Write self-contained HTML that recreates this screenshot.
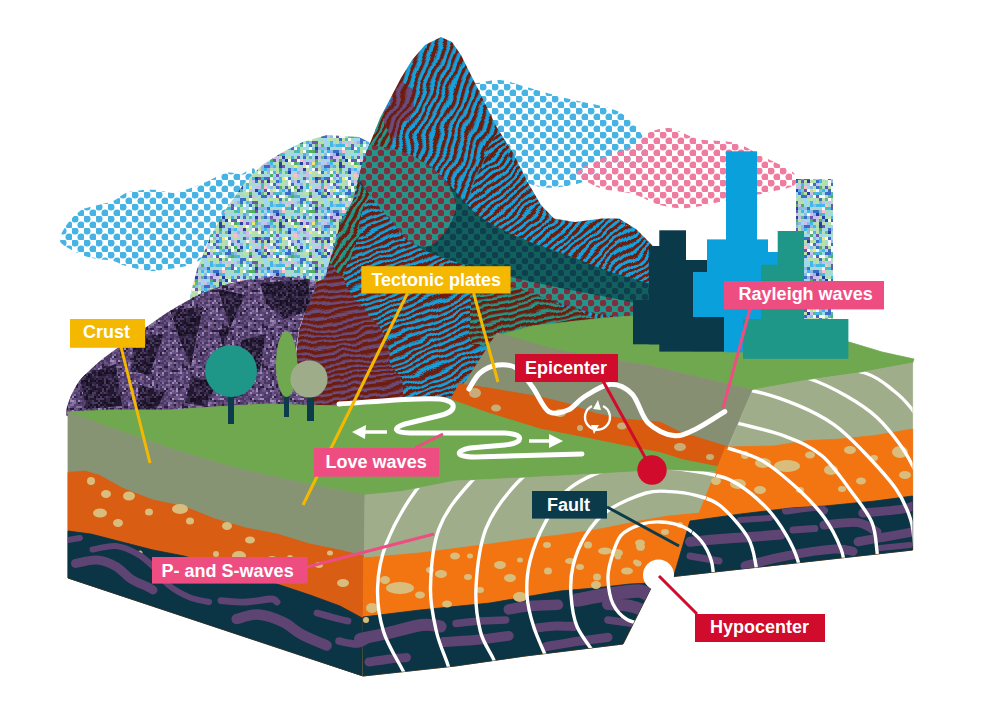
<!DOCTYPE html><html><head><meta charset="utf-8"><style>
html,body{margin:0;padding:0;background:#fff;}
body{width:1000px;height:715px;overflow:hidden;}
svg{display:block;}
.lb{font-family:"Liberation Sans",sans-serif;font-weight:bold;fill:#fff;font-size:17px;}
</style></head><body>
<svg width="1000" height="715" viewBox="0 0 1000 715">
<defs>
<pattern id="pBlue" width="12" height="12" patternUnits="userSpaceOnUse"><circle cx="3" cy="3" r="3.55" fill="#45b3e4"/><circle cx="9" cy="9" r="3.55" fill="#45b3e4"/></pattern>
<pattern id="pPink" width="12" height="12" patternUnits="userSpaceOnUse"><circle cx="3" cy="3" r="3.55" fill="#f07ba0"/><circle cx="9" cy="9" r="3.55" fill="#f07ba0"/></pattern>
<pattern id="pTealDots" width="12" height="12" patternUnits="userSpaceOnUse"><rect width="12" height="12" fill="#23968a"/><circle cx="3" cy="3" r="3.3" fill="#7e2f3e"/><circle cx="9" cy="9" r="3.3" fill="#7e2f3e"/></pattern>
<pattern id="pDarkTealDots" width="12" height="12" patternUnits="userSpaceOnUse"><rect width="12" height="12" fill="#11605e"/><circle cx="3" cy="3" r="3.3" fill="#0f3f4d"/><circle cx="9" cy="9" r="3.3" fill="#0f3f4d"/></pattern>
<pattern id="pStripeTop" width="7" height="7" patternUnits="userSpaceOnUse" patternTransform="rotate(-68)"><rect width="7" height="7" fill="#12a0dc"/><rect y="0" width="7" height="3.3" fill="#6e1d0c"/></pattern>
<pattern id="pStripeMid" width="6" height="6" patternUnits="userSpaceOnUse" patternTransform="rotate(-22)"><rect width="6" height="6" fill="#12a0dc"/><rect y="0" width="6" height="3.2" fill="#6e1d0c"/></pattern>
<pattern id="pStripeSh" width="6" height="6" patternUnits="userSpaceOnUse" patternTransform="rotate(-40)"><rect width="6" height="6" fill="#12a0dc"/><rect y="0" width="6" height="3.0" fill="#6e1d0c"/></pattern>
<pattern id="pStripeLL" width="6" height="6" patternUnits="userSpaceOnUse" patternTransform="rotate(-8)"><rect width="6" height="6" fill="#6b4d7e"/><rect y="0" width="6" height="3.4" fill="#6e1d0c"/></pattern>
<pattern id="pStripeTeal2" width="6" height="6" patternUnits="userSpaceOnUse" patternTransform="rotate(-60)"><rect width="6" height="6" fill="#25968a"/><rect y="0" width="6" height="3.0" fill="#6e1d0c"/></pattern>
<pattern id="pStripePS" width="7" height="7" patternUnits="userSpaceOnUse" patternTransform="rotate(-68)"><rect width="7" height="7" fill="#6b4d7e"/><rect y="0" width="7" height="3.3" fill="#6e1d0c"/></pattern>
<pattern id="pStripeTeal" width="6" height="6" patternUnits="userSpaceOnUse" patternTransform="rotate(-12)"><rect width="6" height="6" fill="#25968a"/><rect y="0" width="6" height="3.4" fill="#6e1d0c"/></pattern>
<filter id="warp" x="-10%" y="-10%" width="120%" height="120%"><feTurbulence type="fractalNoise" baseFrequency="0.035" numOctaves="2" seed="4"/><feDisplacementMap in="SourceGraphic" scale="14" xChannelSelector="R" yChannelSelector="G"/></filter>
<pattern id="pPurpleDark" width="40" height="40" patternUnits="userSpaceOnUse"><rect x="0" y="0" width="2" height="2" fill="#181020"/><rect x="2" y="0" width="2" height="2" fill="#4a3a62"/><rect x="4" y="0" width="2" height="2" fill="#4a3a62"/><rect x="6" y="0" width="2" height="2" fill="#342848"/><rect x="8" y="0" width="2" height="2" fill="#342848"/><rect x="10" y="0" width="2" height="2" fill="#342848"/><rect x="12" y="0" width="2" height="2" fill="#4a3a62"/><rect x="14" y="0" width="2" height="2" fill="#221830"/><rect x="16" y="0" width="2" height="2" fill="#221830"/><rect x="18" y="0" width="2" height="2" fill="#4a3a62"/><rect x="20" y="0" width="2" height="2" fill="#221830"/><rect x="22" y="0" width="2" height="2" fill="#221830"/><rect x="24" y="0" width="2" height="2" fill="#221830"/><rect x="26" y="0" width="2" height="2" fill="#342848"/><rect x="28" y="0" width="2" height="2" fill="#342848"/><rect x="30" y="0" width="2" height="2" fill="#181020"/><rect x="32" y="0" width="2" height="2" fill="#181020"/><rect x="34" y="0" width="2" height="2" fill="#181020"/><rect x="36" y="0" width="2" height="2" fill="#221830"/><rect x="38" y="0" width="2" height="2" fill="#221830"/><rect x="0" y="2" width="2" height="2" fill="#221830"/><rect x="2" y="2" width="2" height="2" fill="#342848"/><rect x="4" y="2" width="2" height="2" fill="#4a3a62"/><rect x="6" y="2" width="2" height="2" fill="#342848"/><rect x="8" y="2" width="2" height="2" fill="#221830"/><rect x="10" y="2" width="2" height="2" fill="#342848"/><rect x="12" y="2" width="2" height="2" fill="#4a3a62"/><rect x="14" y="2" width="2" height="2" fill="#4a3a62"/><rect x="16" y="2" width="2" height="2" fill="#4a3a62"/><rect x="18" y="2" width="2" height="2" fill="#181020"/><rect x="20" y="2" width="2" height="2" fill="#4a3a62"/><rect x="22" y="2" width="2" height="2" fill="#221830"/><rect x="24" y="2" width="2" height="2" fill="#181020"/><rect x="26" y="2" width="2" height="2" fill="#221830"/><rect x="28" y="2" width="2" height="2" fill="#342848"/><rect x="30" y="2" width="2" height="2" fill="#342848"/><rect x="32" y="2" width="2" height="2" fill="#4a3a62"/><rect x="34" y="2" width="2" height="2" fill="#221830"/><rect x="36" y="2" width="2" height="2" fill="#221830"/><rect x="38" y="2" width="2" height="2" fill="#221830"/><rect x="0" y="4" width="2" height="2" fill="#221830"/><rect x="2" y="4" width="2" height="2" fill="#181020"/><rect x="4" y="4" width="2" height="2" fill="#342848"/><rect x="6" y="4" width="2" height="2" fill="#342848"/><rect x="8" y="4" width="2" height="2" fill="#342848"/><rect x="10" y="4" width="2" height="2" fill="#181020"/><rect x="12" y="4" width="2" height="2" fill="#342848"/><rect x="14" y="4" width="2" height="2" fill="#221830"/><rect x="16" y="4" width="2" height="2" fill="#181020"/><rect x="18" y="4" width="2" height="2" fill="#4a3a62"/><rect x="20" y="4" width="2" height="2" fill="#181020"/><rect x="22" y="4" width="2" height="2" fill="#221830"/><rect x="24" y="4" width="2" height="2" fill="#342848"/><rect x="26" y="4" width="2" height="2" fill="#181020"/><rect x="28" y="4" width="2" height="2" fill="#181020"/><rect x="30" y="4" width="2" height="2" fill="#181020"/><rect x="32" y="4" width="2" height="2" fill="#221830"/><rect x="34" y="4" width="2" height="2" fill="#221830"/><rect x="36" y="4" width="2" height="2" fill="#221830"/><rect x="38" y="4" width="2" height="2" fill="#221830"/><rect x="0" y="6" width="2" height="2" fill="#181020"/><rect x="2" y="6" width="2" height="2" fill="#342848"/><rect x="4" y="6" width="2" height="2" fill="#181020"/><rect x="6" y="6" width="2" height="2" fill="#342848"/><rect x="8" y="6" width="2" height="2" fill="#181020"/><rect x="10" y="6" width="2" height="2" fill="#342848"/><rect x="12" y="6" width="2" height="2" fill="#221830"/><rect x="14" y="6" width="2" height="2" fill="#4a3a62"/><rect x="16" y="6" width="2" height="2" fill="#181020"/><rect x="18" y="6" width="2" height="2" fill="#221830"/><rect x="20" y="6" width="2" height="2" fill="#342848"/><rect x="22" y="6" width="2" height="2" fill="#4a3a62"/><rect x="24" y="6" width="2" height="2" fill="#221830"/><rect x="26" y="6" width="2" height="2" fill="#342848"/><rect x="28" y="6" width="2" height="2" fill="#221830"/><rect x="30" y="6" width="2" height="2" fill="#221830"/><rect x="32" y="6" width="2" height="2" fill="#221830"/><rect x="34" y="6" width="2" height="2" fill="#342848"/><rect x="36" y="6" width="2" height="2" fill="#4a3a62"/><rect x="38" y="6" width="2" height="2" fill="#221830"/><rect x="0" y="8" width="2" height="2" fill="#221830"/><rect x="2" y="8" width="2" height="2" fill="#342848"/><rect x="4" y="8" width="2" height="2" fill="#4a3a62"/><rect x="6" y="8" width="2" height="2" fill="#221830"/><rect x="8" y="8" width="2" height="2" fill="#342848"/><rect x="10" y="8" width="2" height="2" fill="#221830"/><rect x="12" y="8" width="2" height="2" fill="#4a3a62"/><rect x="14" y="8" width="2" height="2" fill="#342848"/><rect x="16" y="8" width="2" height="2" fill="#221830"/><rect x="18" y="8" width="2" height="2" fill="#221830"/><rect x="20" y="8" width="2" height="2" fill="#342848"/><rect x="22" y="8" width="2" height="2" fill="#342848"/><rect x="24" y="8" width="2" height="2" fill="#4a3a62"/><rect x="26" y="8" width="2" height="2" fill="#221830"/><rect x="28" y="8" width="2" height="2" fill="#221830"/><rect x="30" y="8" width="2" height="2" fill="#4a3a62"/><rect x="32" y="8" width="2" height="2" fill="#342848"/><rect x="34" y="8" width="2" height="2" fill="#221830"/><rect x="36" y="8" width="2" height="2" fill="#342848"/><rect x="38" y="8" width="2" height="2" fill="#181020"/><rect x="0" y="10" width="2" height="2" fill="#342848"/><rect x="2" y="10" width="2" height="2" fill="#342848"/><rect x="4" y="10" width="2" height="2" fill="#342848"/><rect x="6" y="10" width="2" height="2" fill="#342848"/><rect x="8" y="10" width="2" height="2" fill="#181020"/><rect x="10" y="10" width="2" height="2" fill="#181020"/><rect x="12" y="10" width="2" height="2" fill="#342848"/><rect x="14" y="10" width="2" height="2" fill="#221830"/><rect x="16" y="10" width="2" height="2" fill="#4a3a62"/><rect x="18" y="10" width="2" height="2" fill="#221830"/><rect x="20" y="10" width="2" height="2" fill="#221830"/><rect x="22" y="10" width="2" height="2" fill="#181020"/><rect x="24" y="10" width="2" height="2" fill="#342848"/><rect x="26" y="10" width="2" height="2" fill="#181020"/><rect x="28" y="10" width="2" height="2" fill="#342848"/><rect x="30" y="10" width="2" height="2" fill="#181020"/><rect x="32" y="10" width="2" height="2" fill="#342848"/><rect x="34" y="10" width="2" height="2" fill="#221830"/><rect x="36" y="10" width="2" height="2" fill="#221830"/><rect x="38" y="10" width="2" height="2" fill="#342848"/><rect x="0" y="12" width="2" height="2" fill="#4a3a62"/><rect x="2" y="12" width="2" height="2" fill="#181020"/><rect x="4" y="12" width="2" height="2" fill="#221830"/><rect x="6" y="12" width="2" height="2" fill="#4a3a62"/><rect x="8" y="12" width="2" height="2" fill="#342848"/><rect x="10" y="12" width="2" height="2" fill="#342848"/><rect x="12" y="12" width="2" height="2" fill="#221830"/><rect x="14" y="12" width="2" height="2" fill="#221830"/><rect x="16" y="12" width="2" height="2" fill="#342848"/><rect x="18" y="12" width="2" height="2" fill="#181020"/><rect x="20" y="12" width="2" height="2" fill="#221830"/><rect x="22" y="12" width="2" height="2" fill="#342848"/><rect x="24" y="12" width="2" height="2" fill="#181020"/><rect x="26" y="12" width="2" height="2" fill="#181020"/><rect x="28" y="12" width="2" height="2" fill="#221830"/><rect x="30" y="12" width="2" height="2" fill="#221830"/><rect x="32" y="12" width="2" height="2" fill="#181020"/><rect x="34" y="12" width="2" height="2" fill="#181020"/><rect x="36" y="12" width="2" height="2" fill="#342848"/><rect x="38" y="12" width="2" height="2" fill="#221830"/><rect x="0" y="14" width="2" height="2" fill="#181020"/><rect x="2" y="14" width="2" height="2" fill="#342848"/><rect x="4" y="14" width="2" height="2" fill="#181020"/><rect x="6" y="14" width="2" height="2" fill="#4a3a62"/><rect x="8" y="14" width="2" height="2" fill="#181020"/><rect x="10" y="14" width="2" height="2" fill="#221830"/><rect x="12" y="14" width="2" height="2" fill="#4a3a62"/><rect x="14" y="14" width="2" height="2" fill="#221830"/><rect x="16" y="14" width="2" height="2" fill="#342848"/><rect x="18" y="14" width="2" height="2" fill="#181020"/><rect x="20" y="14" width="2" height="2" fill="#181020"/><rect x="22" y="14" width="2" height="2" fill="#221830"/><rect x="24" y="14" width="2" height="2" fill="#221830"/><rect x="26" y="14" width="2" height="2" fill="#342848"/><rect x="28" y="14" width="2" height="2" fill="#342848"/><rect x="30" y="14" width="2" height="2" fill="#342848"/><rect x="32" y="14" width="2" height="2" fill="#221830"/><rect x="34" y="14" width="2" height="2" fill="#221830"/><rect x="36" y="14" width="2" height="2" fill="#4a3a62"/><rect x="38" y="14" width="2" height="2" fill="#181020"/><rect x="0" y="16" width="2" height="2" fill="#221830"/><rect x="2" y="16" width="2" height="2" fill="#342848"/><rect x="4" y="16" width="2" height="2" fill="#4a3a62"/><rect x="6" y="16" width="2" height="2" fill="#221830"/><rect x="8" y="16" width="2" height="2" fill="#181020"/><rect x="10" y="16" width="2" height="2" fill="#221830"/><rect x="12" y="16" width="2" height="2" fill="#342848"/><rect x="14" y="16" width="2" height="2" fill="#342848"/><rect x="16" y="16" width="2" height="2" fill="#4a3a62"/><rect x="18" y="16" width="2" height="2" fill="#342848"/><rect x="20" y="16" width="2" height="2" fill="#342848"/><rect x="22" y="16" width="2" height="2" fill="#342848"/><rect x="24" y="16" width="2" height="2" fill="#342848"/><rect x="26" y="16" width="2" height="2" fill="#4a3a62"/><rect x="28" y="16" width="2" height="2" fill="#342848"/><rect x="30" y="16" width="2" height="2" fill="#342848"/><rect x="32" y="16" width="2" height="2" fill="#221830"/><rect x="34" y="16" width="2" height="2" fill="#4a3a62"/><rect x="36" y="16" width="2" height="2" fill="#342848"/><rect x="38" y="16" width="2" height="2" fill="#221830"/><rect x="0" y="18" width="2" height="2" fill="#4a3a62"/><rect x="2" y="18" width="2" height="2" fill="#4a3a62"/><rect x="4" y="18" width="2" height="2" fill="#342848"/><rect x="6" y="18" width="2" height="2" fill="#221830"/><rect x="8" y="18" width="2" height="2" fill="#342848"/><rect x="10" y="18" width="2" height="2" fill="#221830"/><rect x="12" y="18" width="2" height="2" fill="#221830"/><rect x="14" y="18" width="2" height="2" fill="#342848"/><rect x="16" y="18" width="2" height="2" fill="#221830"/><rect x="18" y="18" width="2" height="2" fill="#342848"/><rect x="20" y="18" width="2" height="2" fill="#342848"/><rect x="22" y="18" width="2" height="2" fill="#221830"/><rect x="24" y="18" width="2" height="2" fill="#4a3a62"/><rect x="26" y="18" width="2" height="2" fill="#221830"/><rect x="28" y="18" width="2" height="2" fill="#4a3a62"/><rect x="30" y="18" width="2" height="2" fill="#4a3a62"/><rect x="32" y="18" width="2" height="2" fill="#342848"/><rect x="34" y="18" width="2" height="2" fill="#221830"/><rect x="36" y="18" width="2" height="2" fill="#342848"/><rect x="38" y="18" width="2" height="2" fill="#342848"/><rect x="0" y="20" width="2" height="2" fill="#181020"/><rect x="2" y="20" width="2" height="2" fill="#221830"/><rect x="4" y="20" width="2" height="2" fill="#181020"/><rect x="6" y="20" width="2" height="2" fill="#181020"/><rect x="8" y="20" width="2" height="2" fill="#4a3a62"/><rect x="10" y="20" width="2" height="2" fill="#181020"/><rect x="12" y="20" width="2" height="2" fill="#221830"/><rect x="14" y="20" width="2" height="2" fill="#181020"/><rect x="16" y="20" width="2" height="2" fill="#342848"/><rect x="18" y="20" width="2" height="2" fill="#181020"/><rect x="20" y="20" width="2" height="2" fill="#181020"/><rect x="22" y="20" width="2" height="2" fill="#221830"/><rect x="24" y="20" width="2" height="2" fill="#4a3a62"/><rect x="26" y="20" width="2" height="2" fill="#181020"/><rect x="28" y="20" width="2" height="2" fill="#221830"/><rect x="30" y="20" width="2" height="2" fill="#342848"/><rect x="32" y="20" width="2" height="2" fill="#4a3a62"/><rect x="34" y="20" width="2" height="2" fill="#221830"/><rect x="36" y="20" width="2" height="2" fill="#181020"/><rect x="38" y="20" width="2" height="2" fill="#221830"/><rect x="0" y="22" width="2" height="2" fill="#181020"/><rect x="2" y="22" width="2" height="2" fill="#221830"/><rect x="4" y="22" width="2" height="2" fill="#342848"/><rect x="6" y="22" width="2" height="2" fill="#181020"/><rect x="8" y="22" width="2" height="2" fill="#221830"/><rect x="10" y="22" width="2" height="2" fill="#221830"/><rect x="12" y="22" width="2" height="2" fill="#342848"/><rect x="14" y="22" width="2" height="2" fill="#342848"/><rect x="16" y="22" width="2" height="2" fill="#221830"/><rect x="18" y="22" width="2" height="2" fill="#221830"/><rect x="20" y="22" width="2" height="2" fill="#221830"/><rect x="22" y="22" width="2" height="2" fill="#181020"/><rect x="24" y="22" width="2" height="2" fill="#4a3a62"/><rect x="26" y="22" width="2" height="2" fill="#181020"/><rect x="28" y="22" width="2" height="2" fill="#221830"/><rect x="30" y="22" width="2" height="2" fill="#4a3a62"/><rect x="32" y="22" width="2" height="2" fill="#221830"/><rect x="34" y="22" width="2" height="2" fill="#342848"/><rect x="36" y="22" width="2" height="2" fill="#4a3a62"/><rect x="38" y="22" width="2" height="2" fill="#342848"/><rect x="0" y="24" width="2" height="2" fill="#181020"/><rect x="2" y="24" width="2" height="2" fill="#342848"/><rect x="4" y="24" width="2" height="2" fill="#342848"/><rect x="6" y="24" width="2" height="2" fill="#181020"/><rect x="8" y="24" width="2" height="2" fill="#221830"/><rect x="10" y="24" width="2" height="2" fill="#181020"/><rect x="12" y="24" width="2" height="2" fill="#4a3a62"/><rect x="14" y="24" width="2" height="2" fill="#342848"/><rect x="16" y="24" width="2" height="2" fill="#4a3a62"/><rect x="18" y="24" width="2" height="2" fill="#221830"/><rect x="20" y="24" width="2" height="2" fill="#181020"/><rect x="22" y="24" width="2" height="2" fill="#342848"/><rect x="24" y="24" width="2" height="2" fill="#342848"/><rect x="26" y="24" width="2" height="2" fill="#4a3a62"/><rect x="28" y="24" width="2" height="2" fill="#342848"/><rect x="30" y="24" width="2" height="2" fill="#221830"/><rect x="32" y="24" width="2" height="2" fill="#4a3a62"/><rect x="34" y="24" width="2" height="2" fill="#221830"/><rect x="36" y="24" width="2" height="2" fill="#181020"/><rect x="38" y="24" width="2" height="2" fill="#221830"/><rect x="0" y="26" width="2" height="2" fill="#4a3a62"/><rect x="2" y="26" width="2" height="2" fill="#181020"/><rect x="4" y="26" width="2" height="2" fill="#342848"/><rect x="6" y="26" width="2" height="2" fill="#4a3a62"/><rect x="8" y="26" width="2" height="2" fill="#342848"/><rect x="10" y="26" width="2" height="2" fill="#221830"/><rect x="12" y="26" width="2" height="2" fill="#221830"/><rect x="14" y="26" width="2" height="2" fill="#221830"/><rect x="16" y="26" width="2" height="2" fill="#4a3a62"/><rect x="18" y="26" width="2" height="2" fill="#342848"/><rect x="20" y="26" width="2" height="2" fill="#342848"/><rect x="22" y="26" width="2" height="2" fill="#181020"/><rect x="24" y="26" width="2" height="2" fill="#221830"/><rect x="26" y="26" width="2" height="2" fill="#221830"/><rect x="28" y="26" width="2" height="2" fill="#4a3a62"/><rect x="30" y="26" width="2" height="2" fill="#221830"/><rect x="32" y="26" width="2" height="2" fill="#221830"/><rect x="34" y="26" width="2" height="2" fill="#342848"/><rect x="36" y="26" width="2" height="2" fill="#221830"/><rect x="38" y="26" width="2" height="2" fill="#342848"/><rect x="0" y="28" width="2" height="2" fill="#221830"/><rect x="2" y="28" width="2" height="2" fill="#342848"/><rect x="4" y="28" width="2" height="2" fill="#342848"/><rect x="6" y="28" width="2" height="2" fill="#221830"/><rect x="8" y="28" width="2" height="2" fill="#4a3a62"/><rect x="10" y="28" width="2" height="2" fill="#342848"/><rect x="12" y="28" width="2" height="2" fill="#221830"/><rect x="14" y="28" width="2" height="2" fill="#181020"/><rect x="16" y="28" width="2" height="2" fill="#221830"/><rect x="18" y="28" width="2" height="2" fill="#221830"/><rect x="20" y="28" width="2" height="2" fill="#221830"/><rect x="22" y="28" width="2" height="2" fill="#4a3a62"/><rect x="24" y="28" width="2" height="2" fill="#181020"/><rect x="26" y="28" width="2" height="2" fill="#4a3a62"/><rect x="28" y="28" width="2" height="2" fill="#342848"/><rect x="30" y="28" width="2" height="2" fill="#221830"/><rect x="32" y="28" width="2" height="2" fill="#221830"/><rect x="34" y="28" width="2" height="2" fill="#4a3a62"/><rect x="36" y="28" width="2" height="2" fill="#342848"/><rect x="38" y="28" width="2" height="2" fill="#342848"/><rect x="0" y="30" width="2" height="2" fill="#4a3a62"/><rect x="2" y="30" width="2" height="2" fill="#342848"/><rect x="4" y="30" width="2" height="2" fill="#181020"/><rect x="6" y="30" width="2" height="2" fill="#4a3a62"/><rect x="8" y="30" width="2" height="2" fill="#221830"/><rect x="10" y="30" width="2" height="2" fill="#181020"/><rect x="12" y="30" width="2" height="2" fill="#221830"/><rect x="14" y="30" width="2" height="2" fill="#342848"/><rect x="16" y="30" width="2" height="2" fill="#342848"/><rect x="18" y="30" width="2" height="2" fill="#221830"/><rect x="20" y="30" width="2" height="2" fill="#221830"/><rect x="22" y="30" width="2" height="2" fill="#4a3a62"/><rect x="24" y="30" width="2" height="2" fill="#221830"/><rect x="26" y="30" width="2" height="2" fill="#342848"/><rect x="28" y="30" width="2" height="2" fill="#181020"/><rect x="30" y="30" width="2" height="2" fill="#221830"/><rect x="32" y="30" width="2" height="2" fill="#221830"/><rect x="34" y="30" width="2" height="2" fill="#4a3a62"/><rect x="36" y="30" width="2" height="2" fill="#342848"/><rect x="38" y="30" width="2" height="2" fill="#4a3a62"/><rect x="0" y="32" width="2" height="2" fill="#181020"/><rect x="2" y="32" width="2" height="2" fill="#221830"/><rect x="4" y="32" width="2" height="2" fill="#342848"/><rect x="6" y="32" width="2" height="2" fill="#342848"/><rect x="8" y="32" width="2" height="2" fill="#221830"/><rect x="10" y="32" width="2" height="2" fill="#181020"/><rect x="12" y="32" width="2" height="2" fill="#4a3a62"/><rect x="14" y="32" width="2" height="2" fill="#4a3a62"/><rect x="16" y="32" width="2" height="2" fill="#221830"/><rect x="18" y="32" width="2" height="2" fill="#181020"/><rect x="20" y="32" width="2" height="2" fill="#4a3a62"/><rect x="22" y="32" width="2" height="2" fill="#342848"/><rect x="24" y="32" width="2" height="2" fill="#4a3a62"/><rect x="26" y="32" width="2" height="2" fill="#342848"/><rect x="28" y="32" width="2" height="2" fill="#221830"/><rect x="30" y="32" width="2" height="2" fill="#221830"/><rect x="32" y="32" width="2" height="2" fill="#221830"/><rect x="34" y="32" width="2" height="2" fill="#221830"/><rect x="36" y="32" width="2" height="2" fill="#342848"/><rect x="38" y="32" width="2" height="2" fill="#4a3a62"/><rect x="0" y="34" width="2" height="2" fill="#4a3a62"/><rect x="2" y="34" width="2" height="2" fill="#181020"/><rect x="4" y="34" width="2" height="2" fill="#4a3a62"/><rect x="6" y="34" width="2" height="2" fill="#221830"/><rect x="8" y="34" width="2" height="2" fill="#342848"/><rect x="10" y="34" width="2" height="2" fill="#342848"/><rect x="12" y="34" width="2" height="2" fill="#4a3a62"/><rect x="14" y="34" width="2" height="2" fill="#342848"/><rect x="16" y="34" width="2" height="2" fill="#221830"/><rect x="18" y="34" width="2" height="2" fill="#4a3a62"/><rect x="20" y="34" width="2" height="2" fill="#181020"/><rect x="22" y="34" width="2" height="2" fill="#221830"/><rect x="24" y="34" width="2" height="2" fill="#181020"/><rect x="26" y="34" width="2" height="2" fill="#221830"/><rect x="28" y="34" width="2" height="2" fill="#221830"/><rect x="30" y="34" width="2" height="2" fill="#221830"/><rect x="32" y="34" width="2" height="2" fill="#4a3a62"/><rect x="34" y="34" width="2" height="2" fill="#181020"/><rect x="36" y="34" width="2" height="2" fill="#4a3a62"/><rect x="38" y="34" width="2" height="2" fill="#342848"/><rect x="0" y="36" width="2" height="2" fill="#181020"/><rect x="2" y="36" width="2" height="2" fill="#342848"/><rect x="4" y="36" width="2" height="2" fill="#221830"/><rect x="6" y="36" width="2" height="2" fill="#181020"/><rect x="8" y="36" width="2" height="2" fill="#4a3a62"/><rect x="10" y="36" width="2" height="2" fill="#4a3a62"/><rect x="12" y="36" width="2" height="2" fill="#4a3a62"/><rect x="14" y="36" width="2" height="2" fill="#181020"/><rect x="16" y="36" width="2" height="2" fill="#342848"/><rect x="18" y="36" width="2" height="2" fill="#181020"/><rect x="20" y="36" width="2" height="2" fill="#4a3a62"/><rect x="22" y="36" width="2" height="2" fill="#181020"/><rect x="24" y="36" width="2" height="2" fill="#342848"/><rect x="26" y="36" width="2" height="2" fill="#4a3a62"/><rect x="28" y="36" width="2" height="2" fill="#342848"/><rect x="30" y="36" width="2" height="2" fill="#342848"/><rect x="32" y="36" width="2" height="2" fill="#221830"/><rect x="34" y="36" width="2" height="2" fill="#4a3a62"/><rect x="36" y="36" width="2" height="2" fill="#221830"/><rect x="38" y="36" width="2" height="2" fill="#181020"/><rect x="0" y="38" width="2" height="2" fill="#221830"/><rect x="2" y="38" width="2" height="2" fill="#221830"/><rect x="4" y="38" width="2" height="2" fill="#221830"/><rect x="6" y="38" width="2" height="2" fill="#181020"/><rect x="8" y="38" width="2" height="2" fill="#342848"/><rect x="10" y="38" width="2" height="2" fill="#221830"/><rect x="12" y="38" width="2" height="2" fill="#221830"/><rect x="14" y="38" width="2" height="2" fill="#221830"/><rect x="16" y="38" width="2" height="2" fill="#4a3a62"/><rect x="18" y="38" width="2" height="2" fill="#4a3a62"/><rect x="20" y="38" width="2" height="2" fill="#4a3a62"/><rect x="22" y="38" width="2" height="2" fill="#4a3a62"/><rect x="24" y="38" width="2" height="2" fill="#221830"/><rect x="26" y="38" width="2" height="2" fill="#342848"/><rect x="28" y="38" width="2" height="2" fill="#342848"/><rect x="30" y="38" width="2" height="2" fill="#181020"/><rect x="32" y="38" width="2" height="2" fill="#181020"/><rect x="34" y="38" width="2" height="2" fill="#181020"/><rect x="36" y="38" width="2" height="2" fill="#221830"/><rect x="38" y="38" width="2" height="2" fill="#181020"/></pattern>
<pattern id="pNoise" width="60" height="60" patternUnits="userSpaceOnUse"><rect x="0" y="0" width="3" height="3" fill="#a0d8f0"/><rect x="3" y="0" width="3" height="3" fill="#a8dcc8"/><rect x="6" y="0" width="3" height="3" fill="#f4f8f8"/><rect x="9" y="0" width="3" height="3" fill="#b8e0a8"/><rect x="12" y="0" width="3" height="3" fill="#c8c0e8"/><rect x="15" y="0" width="3" height="3" fill="#3a6ec8"/><rect x="18" y="0" width="3" height="3" fill="#b8e0a8"/><rect x="21" y="0" width="3" height="3" fill="#6858b0"/><rect x="24" y="0" width="3" height="3" fill="#b8e0a8"/><rect x="27" y="0" width="3" height="3" fill="#2a40a0"/><rect x="30" y="0" width="3" height="3" fill="#b8e0a8"/><rect x="33" y="0" width="3" height="3" fill="#b8e0a8"/><rect x="36" y="0" width="3" height="3" fill="#3a6ec8"/><rect x="39" y="0" width="3" height="3" fill="#40b8e8"/><rect x="42" y="0" width="3" height="3" fill="#b8e0a8"/><rect x="45" y="0" width="3" height="3" fill="#a8dcc8"/><rect x="48" y="0" width="3" height="3" fill="#f4f8f8"/><rect x="51" y="0" width="3" height="3" fill="#8fb8e8"/><rect x="54" y="0" width="3" height="3" fill="#c8c0e8"/><rect x="57" y="0" width="3" height="3" fill="#3a6ec8"/><rect x="0" y="3" width="3" height="3" fill="#8fb8e8"/><rect x="3" y="3" width="3" height="3" fill="#b8e0a8"/><rect x="6" y="3" width="3" height="3" fill="#58b8a0"/><rect x="9" y="3" width="3" height="3" fill="#a0d8f0"/><rect x="12" y="3" width="3" height="3" fill="#a8dcc8"/><rect x="15" y="3" width="3" height="3" fill="#b8e0a8"/><rect x="18" y="3" width="3" height="3" fill="#a0d8f0"/><rect x="21" y="3" width="3" height="3" fill="#40b8e8"/><rect x="24" y="3" width="3" height="3" fill="#a8dcc8"/><rect x="27" y="3" width="3" height="3" fill="#c8c0e8"/><rect x="30" y="3" width="3" height="3" fill="#f4f8f8"/><rect x="33" y="3" width="3" height="3" fill="#3a6ec8"/><rect x="36" y="3" width="3" height="3" fill="#c8c0e8"/><rect x="39" y="3" width="3" height="3" fill="#b8e0a8"/><rect x="42" y="3" width="3" height="3" fill="#b8e0a8"/><rect x="45" y="3" width="3" height="3" fill="#a8dcc8"/><rect x="48" y="3" width="3" height="3" fill="#f4f8f8"/><rect x="51" y="3" width="3" height="3" fill="#3a6ec8"/><rect x="54" y="3" width="3" height="3" fill="#a0d8f0"/><rect x="57" y="3" width="3" height="3" fill="#c8c0e8"/><rect x="0" y="6" width="3" height="3" fill="#2a40a0"/><rect x="3" y="6" width="3" height="3" fill="#a0d8f0"/><rect x="6" y="6" width="3" height="3" fill="#40b8e8"/><rect x="9" y="6" width="3" height="3" fill="#f0e870"/><rect x="12" y="6" width="3" height="3" fill="#a0d8f0"/><rect x="15" y="6" width="3" height="3" fill="#c8c0e8"/><rect x="18" y="6" width="3" height="3" fill="#c8c0e8"/><rect x="21" y="6" width="3" height="3" fill="#58b8a0"/><rect x="24" y="6" width="3" height="3" fill="#f8c0c8"/><rect x="27" y="6" width="3" height="3" fill="#a0d8f0"/><rect x="30" y="6" width="3" height="3" fill="#8fb8e8"/><rect x="33" y="6" width="3" height="3" fill="#b8e0a8"/><rect x="36" y="6" width="3" height="3" fill="#3a6ec8"/><rect x="39" y="6" width="3" height="3" fill="#50b060"/><rect x="42" y="6" width="3" height="3" fill="#a8dcc8"/><rect x="45" y="6" width="3" height="3" fill="#6858b0"/><rect x="48" y="6" width="3" height="3" fill="#b8e0a8"/><rect x="51" y="6" width="3" height="3" fill="#f4f8f8"/><rect x="54" y="6" width="3" height="3" fill="#50b060"/><rect x="57" y="6" width="3" height="3" fill="#c8c0e8"/><rect x="0" y="9" width="3" height="3" fill="#58b8a0"/><rect x="3" y="9" width="3" height="3" fill="#a0d8f0"/><rect x="6" y="9" width="3" height="3" fill="#f4f8f8"/><rect x="9" y="9" width="3" height="3" fill="#c8c0e8"/><rect x="12" y="9" width="3" height="3" fill="#c8c0e8"/><rect x="15" y="9" width="3" height="3" fill="#2a40a0"/><rect x="18" y="9" width="3" height="3" fill="#40b8e8"/><rect x="21" y="9" width="3" height="3" fill="#8fb8e8"/><rect x="24" y="9" width="3" height="3" fill="#6858b0"/><rect x="27" y="9" width="3" height="3" fill="#f4f8f8"/><rect x="30" y="9" width="3" height="3" fill="#b8e0a8"/><rect x="33" y="9" width="3" height="3" fill="#f0e870"/><rect x="36" y="9" width="3" height="3" fill="#f4f8f8"/><rect x="39" y="9" width="3" height="3" fill="#8fb8e8"/><rect x="42" y="9" width="3" height="3" fill="#40b8e8"/><rect x="45" y="9" width="3" height="3" fill="#a0d8f0"/><rect x="48" y="9" width="3" height="3" fill="#3a6ec8"/><rect x="51" y="9" width="3" height="3" fill="#f4f8f8"/><rect x="54" y="9" width="3" height="3" fill="#b8e0a8"/><rect x="57" y="9" width="3" height="3" fill="#2a40a0"/><rect x="0" y="12" width="3" height="3" fill="#a8dcc8"/><rect x="3" y="12" width="3" height="3" fill="#b8e0a8"/><rect x="6" y="12" width="3" height="3" fill="#b8e0a8"/><rect x="9" y="12" width="3" height="3" fill="#50b060"/><rect x="12" y="12" width="3" height="3" fill="#a8dcc8"/><rect x="15" y="12" width="3" height="3" fill="#a0d8f0"/><rect x="18" y="12" width="3" height="3" fill="#3a6ec8"/><rect x="21" y="12" width="3" height="3" fill="#58b8a0"/><rect x="24" y="12" width="3" height="3" fill="#b8e0a8"/><rect x="27" y="12" width="3" height="3" fill="#2a40a0"/><rect x="30" y="12" width="3" height="3" fill="#c8c0e8"/><rect x="33" y="12" width="3" height="3" fill="#58b8a0"/><rect x="36" y="12" width="3" height="3" fill="#40b8e8"/><rect x="39" y="12" width="3" height="3" fill="#58b8a0"/><rect x="42" y="12" width="3" height="3" fill="#a0d8f0"/><rect x="45" y="12" width="3" height="3" fill="#3a6ec8"/><rect x="48" y="12" width="3" height="3" fill="#3a6ec8"/><rect x="51" y="12" width="3" height="3" fill="#58b8a0"/><rect x="54" y="12" width="3" height="3" fill="#8fb8e8"/><rect x="57" y="12" width="3" height="3" fill="#a8dcc8"/><rect x="0" y="15" width="3" height="3" fill="#a8dcc8"/><rect x="3" y="15" width="3" height="3" fill="#a8dcc8"/><rect x="6" y="15" width="3" height="3" fill="#a0d8f0"/><rect x="9" y="15" width="3" height="3" fill="#6858b0"/><rect x="12" y="15" width="3" height="3" fill="#c8c0e8"/><rect x="15" y="15" width="3" height="3" fill="#a0d8f0"/><rect x="18" y="15" width="3" height="3" fill="#b8e0a8"/><rect x="21" y="15" width="3" height="3" fill="#3a6ec8"/><rect x="24" y="15" width="3" height="3" fill="#3a6ec8"/><rect x="27" y="15" width="3" height="3" fill="#c8c0e8"/><rect x="30" y="15" width="3" height="3" fill="#8fb8e8"/><rect x="33" y="15" width="3" height="3" fill="#f4f8f8"/><rect x="36" y="15" width="3" height="3" fill="#6858b0"/><rect x="39" y="15" width="3" height="3" fill="#f4f8f8"/><rect x="42" y="15" width="3" height="3" fill="#f4f8f8"/><rect x="45" y="15" width="3" height="3" fill="#b8e0a8"/><rect x="48" y="15" width="3" height="3" fill="#58b8a0"/><rect x="51" y="15" width="3" height="3" fill="#50b060"/><rect x="54" y="15" width="3" height="3" fill="#58b8a0"/><rect x="57" y="15" width="3" height="3" fill="#40b8e8"/><rect x="0" y="18" width="3" height="3" fill="#3a6ec8"/><rect x="3" y="18" width="3" height="3" fill="#3a6ec8"/><rect x="6" y="18" width="3" height="3" fill="#b8e0a8"/><rect x="9" y="18" width="3" height="3" fill="#f4f8f8"/><rect x="12" y="18" width="3" height="3" fill="#b8e0a8"/><rect x="15" y="18" width="3" height="3" fill="#b8e0a8"/><rect x="18" y="18" width="3" height="3" fill="#a8dcc8"/><rect x="21" y="18" width="3" height="3" fill="#a8dcc8"/><rect x="24" y="18" width="3" height="3" fill="#a0d8f0"/><rect x="27" y="18" width="3" height="3" fill="#b8e0a8"/><rect x="30" y="18" width="3" height="3" fill="#b8e0a8"/><rect x="33" y="18" width="3" height="3" fill="#a8dcc8"/><rect x="36" y="18" width="3" height="3" fill="#b8e0a8"/><rect x="39" y="18" width="3" height="3" fill="#3a6ec8"/><rect x="42" y="18" width="3" height="3" fill="#b8e0a8"/><rect x="45" y="18" width="3" height="3" fill="#58b8a0"/><rect x="48" y="18" width="3" height="3" fill="#f4f8f8"/><rect x="51" y="18" width="3" height="3" fill="#a8dcc8"/><rect x="54" y="18" width="3" height="3" fill="#a0d8f0"/><rect x="57" y="18" width="3" height="3" fill="#a0d8f0"/><rect x="0" y="21" width="3" height="3" fill="#3a6ec8"/><rect x="3" y="21" width="3" height="3" fill="#b8e0a8"/><rect x="6" y="21" width="3" height="3" fill="#40b8e8"/><rect x="9" y="21" width="3" height="3" fill="#8fb8e8"/><rect x="12" y="21" width="3" height="3" fill="#6858b0"/><rect x="15" y="21" width="3" height="3" fill="#6858b0"/><rect x="18" y="21" width="3" height="3" fill="#b8e0a8"/><rect x="21" y="21" width="3" height="3" fill="#b8e0a8"/><rect x="24" y="21" width="3" height="3" fill="#a0d8f0"/><rect x="27" y="21" width="3" height="3" fill="#a0d8f0"/><rect x="30" y="21" width="3" height="3" fill="#40b8e8"/><rect x="33" y="21" width="3" height="3" fill="#a8dcc8"/><rect x="36" y="21" width="3" height="3" fill="#b8e0a8"/><rect x="39" y="21" width="3" height="3" fill="#8fb8e8"/><rect x="42" y="21" width="3" height="3" fill="#c8c0e8"/><rect x="45" y="21" width="3" height="3" fill="#a8dcc8"/><rect x="48" y="21" width="3" height="3" fill="#c8c0e8"/><rect x="51" y="21" width="3" height="3" fill="#b8e0a8"/><rect x="54" y="21" width="3" height="3" fill="#c8c0e8"/><rect x="57" y="21" width="3" height="3" fill="#8fb8e8"/><rect x="0" y="24" width="3" height="3" fill="#58b8a0"/><rect x="3" y="24" width="3" height="3" fill="#f4f8f8"/><rect x="6" y="24" width="3" height="3" fill="#a0d8f0"/><rect x="9" y="24" width="3" height="3" fill="#3a6ec8"/><rect x="12" y="24" width="3" height="3" fill="#a8dcc8"/><rect x="15" y="24" width="3" height="3" fill="#50b060"/><rect x="18" y="24" width="3" height="3" fill="#c8c0e8"/><rect x="21" y="24" width="3" height="3" fill="#50b060"/><rect x="24" y="24" width="3" height="3" fill="#a0d8f0"/><rect x="27" y="24" width="3" height="3" fill="#a8dcc8"/><rect x="30" y="24" width="3" height="3" fill="#40b8e8"/><rect x="33" y="24" width="3" height="3" fill="#8fb8e8"/><rect x="36" y="24" width="3" height="3" fill="#40b8e8"/><rect x="39" y="24" width="3" height="3" fill="#40b8e8"/><rect x="42" y="24" width="3" height="3" fill="#40b8e8"/><rect x="45" y="24" width="3" height="3" fill="#f8c0c8"/><rect x="48" y="24" width="3" height="3" fill="#a8dcc8"/><rect x="51" y="24" width="3" height="3" fill="#6858b0"/><rect x="54" y="24" width="3" height="3" fill="#a0d8f0"/><rect x="57" y="24" width="3" height="3" fill="#b8e0a8"/><rect x="0" y="27" width="3" height="3" fill="#b8e0a8"/><rect x="3" y="27" width="3" height="3" fill="#a0d8f0"/><rect x="6" y="27" width="3" height="3" fill="#a0d8f0"/><rect x="9" y="27" width="3" height="3" fill="#f4f8f8"/><rect x="12" y="27" width="3" height="3" fill="#8fb8e8"/><rect x="15" y="27" width="3" height="3" fill="#2a40a0"/><rect x="18" y="27" width="3" height="3" fill="#8fb8e8"/><rect x="21" y="27" width="3" height="3" fill="#8fb8e8"/><rect x="24" y="27" width="3" height="3" fill="#8fb8e8"/><rect x="27" y="27" width="3" height="3" fill="#3a6ec8"/><rect x="30" y="27" width="3" height="3" fill="#a8dcc8"/><rect x="33" y="27" width="3" height="3" fill="#a8dcc8"/><rect x="36" y="27" width="3" height="3" fill="#a8dcc8"/><rect x="39" y="27" width="3" height="3" fill="#a8dcc8"/><rect x="42" y="27" width="3" height="3" fill="#f4f8f8"/><rect x="45" y="27" width="3" height="3" fill="#58b8a0"/><rect x="48" y="27" width="3" height="3" fill="#40b8e8"/><rect x="51" y="27" width="3" height="3" fill="#6858b0"/><rect x="54" y="27" width="3" height="3" fill="#f4f8f8"/><rect x="57" y="27" width="3" height="3" fill="#40b8e8"/><rect x="0" y="30" width="3" height="3" fill="#b8e0a8"/><rect x="3" y="30" width="3" height="3" fill="#f4f8f8"/><rect x="6" y="30" width="3" height="3" fill="#58b8a0"/><rect x="9" y="30" width="3" height="3" fill="#50b060"/><rect x="12" y="30" width="3" height="3" fill="#50b060"/><rect x="15" y="30" width="3" height="3" fill="#6858b0"/><rect x="18" y="30" width="3" height="3" fill="#a8dcc8"/><rect x="21" y="30" width="3" height="3" fill="#40b8e8"/><rect x="24" y="30" width="3" height="3" fill="#a0d8f0"/><rect x="27" y="30" width="3" height="3" fill="#40b8e8"/><rect x="30" y="30" width="3" height="3" fill="#8fb8e8"/><rect x="33" y="30" width="3" height="3" fill="#3a6ec8"/><rect x="36" y="30" width="3" height="3" fill="#3a6ec8"/><rect x="39" y="30" width="3" height="3" fill="#8fb8e8"/><rect x="42" y="30" width="3" height="3" fill="#f8c0c8"/><rect x="45" y="30" width="3" height="3" fill="#a8dcc8"/><rect x="48" y="30" width="3" height="3" fill="#a8dcc8"/><rect x="51" y="30" width="3" height="3" fill="#a8dcc8"/><rect x="54" y="30" width="3" height="3" fill="#58b8a0"/><rect x="57" y="30" width="3" height="3" fill="#40b8e8"/><rect x="0" y="33" width="3" height="3" fill="#a8dcc8"/><rect x="3" y="33" width="3" height="3" fill="#40b8e8"/><rect x="6" y="33" width="3" height="3" fill="#8fb8e8"/><rect x="9" y="33" width="3" height="3" fill="#f4f8f8"/><rect x="12" y="33" width="3" height="3" fill="#a0d8f0"/><rect x="15" y="33" width="3" height="3" fill="#c8c0e8"/><rect x="18" y="33" width="3" height="3" fill="#a8dcc8"/><rect x="21" y="33" width="3" height="3" fill="#b8e0a8"/><rect x="24" y="33" width="3" height="3" fill="#8fb8e8"/><rect x="27" y="33" width="3" height="3" fill="#f4f8f8"/><rect x="30" y="33" width="3" height="3" fill="#c8c0e8"/><rect x="33" y="33" width="3" height="3" fill="#8fb8e8"/><rect x="36" y="33" width="3" height="3" fill="#2a40a0"/><rect x="39" y="33" width="3" height="3" fill="#58b8a0"/><rect x="42" y="33" width="3" height="3" fill="#40b8e8"/><rect x="45" y="33" width="3" height="3" fill="#a8dcc8"/><rect x="48" y="33" width="3" height="3" fill="#a0d8f0"/><rect x="51" y="33" width="3" height="3" fill="#a0d8f0"/><rect x="54" y="33" width="3" height="3" fill="#a0d8f0"/><rect x="57" y="33" width="3" height="3" fill="#c8c0e8"/><rect x="0" y="36" width="3" height="3" fill="#a0d8f0"/><rect x="3" y="36" width="3" height="3" fill="#3a6ec8"/><rect x="6" y="36" width="3" height="3" fill="#a8dcc8"/><rect x="9" y="36" width="3" height="3" fill="#58b8a0"/><rect x="12" y="36" width="3" height="3" fill="#a0d8f0"/><rect x="15" y="36" width="3" height="3" fill="#2a40a0"/><rect x="18" y="36" width="3" height="3" fill="#c8c0e8"/><rect x="21" y="36" width="3" height="3" fill="#58b8a0"/><rect x="24" y="36" width="3" height="3" fill="#3a6ec8"/><rect x="27" y="36" width="3" height="3" fill="#8fb8e8"/><rect x="30" y="36" width="3" height="3" fill="#6858b0"/><rect x="33" y="36" width="3" height="3" fill="#c8c0e8"/><rect x="36" y="36" width="3" height="3" fill="#c8c0e8"/><rect x="39" y="36" width="3" height="3" fill="#b8e0a8"/><rect x="42" y="36" width="3" height="3" fill="#2a40a0"/><rect x="45" y="36" width="3" height="3" fill="#a8dcc8"/><rect x="48" y="36" width="3" height="3" fill="#b8e0a8"/><rect x="51" y="36" width="3" height="3" fill="#40b8e8"/><rect x="54" y="36" width="3" height="3" fill="#a8dcc8"/><rect x="57" y="36" width="3" height="3" fill="#6858b0"/><rect x="0" y="39" width="3" height="3" fill="#f8c0c8"/><rect x="3" y="39" width="3" height="3" fill="#c8c0e8"/><rect x="6" y="39" width="3" height="3" fill="#a0d8f0"/><rect x="9" y="39" width="3" height="3" fill="#c8c0e8"/><rect x="12" y="39" width="3" height="3" fill="#c8c0e8"/><rect x="15" y="39" width="3" height="3" fill="#50b060"/><rect x="18" y="39" width="3" height="3" fill="#b8e0a8"/><rect x="21" y="39" width="3" height="3" fill="#c8c0e8"/><rect x="24" y="39" width="3" height="3" fill="#a0d8f0"/><rect x="27" y="39" width="3" height="3" fill="#a0d8f0"/><rect x="30" y="39" width="3" height="3" fill="#50b060"/><rect x="33" y="39" width="3" height="3" fill="#6858b0"/><rect x="36" y="39" width="3" height="3" fill="#c8c0e8"/><rect x="39" y="39" width="3" height="3" fill="#50b060"/><rect x="42" y="39" width="3" height="3" fill="#8fb8e8"/><rect x="45" y="39" width="3" height="3" fill="#2a40a0"/><rect x="48" y="39" width="3" height="3" fill="#f4f8f8"/><rect x="51" y="39" width="3" height="3" fill="#6858b0"/><rect x="54" y="39" width="3" height="3" fill="#6858b0"/><rect x="57" y="39" width="3" height="3" fill="#f4f8f8"/><rect x="0" y="42" width="3" height="3" fill="#2a40a0"/><rect x="3" y="42" width="3" height="3" fill="#c8c0e8"/><rect x="6" y="42" width="3" height="3" fill="#6858b0"/><rect x="9" y="42" width="3" height="3" fill="#8fb8e8"/><rect x="12" y="42" width="3" height="3" fill="#f0e870"/><rect x="15" y="42" width="3" height="3" fill="#58b8a0"/><rect x="18" y="42" width="3" height="3" fill="#8fb8e8"/><rect x="21" y="42" width="3" height="3" fill="#a0d8f0"/><rect x="24" y="42" width="3" height="3" fill="#c8c0e8"/><rect x="27" y="42" width="3" height="3" fill="#8fb8e8"/><rect x="30" y="42" width="3" height="3" fill="#40b8e8"/><rect x="33" y="42" width="3" height="3" fill="#a8dcc8"/><rect x="36" y="42" width="3" height="3" fill="#b8e0a8"/><rect x="39" y="42" width="3" height="3" fill="#2a40a0"/><rect x="42" y="42" width="3" height="3" fill="#b8e0a8"/><rect x="45" y="42" width="3" height="3" fill="#a0d8f0"/><rect x="48" y="42" width="3" height="3" fill="#b8e0a8"/><rect x="51" y="42" width="3" height="3" fill="#f4f8f8"/><rect x="54" y="42" width="3" height="3" fill="#50b060"/><rect x="57" y="42" width="3" height="3" fill="#58b8a0"/><rect x="0" y="45" width="3" height="3" fill="#a8dcc8"/><rect x="3" y="45" width="3" height="3" fill="#f0e870"/><rect x="6" y="45" width="3" height="3" fill="#f4f8f8"/><rect x="9" y="45" width="3" height="3" fill="#a8dcc8"/><rect x="12" y="45" width="3" height="3" fill="#58b8a0"/><rect x="15" y="45" width="3" height="3" fill="#8fb8e8"/><rect x="18" y="45" width="3" height="3" fill="#a8dcc8"/><rect x="21" y="45" width="3" height="3" fill="#8fb8e8"/><rect x="24" y="45" width="3" height="3" fill="#3a6ec8"/><rect x="27" y="45" width="3" height="3" fill="#6858b0"/><rect x="30" y="45" width="3" height="3" fill="#8fb8e8"/><rect x="33" y="45" width="3" height="3" fill="#40b8e8"/><rect x="36" y="45" width="3" height="3" fill="#a8dcc8"/><rect x="39" y="45" width="3" height="3" fill="#2a40a0"/><rect x="42" y="45" width="3" height="3" fill="#6858b0"/><rect x="45" y="45" width="3" height="3" fill="#a0d8f0"/><rect x="48" y="45" width="3" height="3" fill="#a8dcc8"/><rect x="51" y="45" width="3" height="3" fill="#a0d8f0"/><rect x="54" y="45" width="3" height="3" fill="#f0e870"/><rect x="57" y="45" width="3" height="3" fill="#b8e0a8"/><rect x="0" y="48" width="3" height="3" fill="#c8c0e8"/><rect x="3" y="48" width="3" height="3" fill="#2a40a0"/><rect x="6" y="48" width="3" height="3" fill="#b8e0a8"/><rect x="9" y="48" width="3" height="3" fill="#a0d8f0"/><rect x="12" y="48" width="3" height="3" fill="#f4f8f8"/><rect x="15" y="48" width="3" height="3" fill="#6858b0"/><rect x="18" y="48" width="3" height="3" fill="#b8e0a8"/><rect x="21" y="48" width="3" height="3" fill="#8fb8e8"/><rect x="24" y="48" width="3" height="3" fill="#40b8e8"/><rect x="27" y="48" width="3" height="3" fill="#8fb8e8"/><rect x="30" y="48" width="3" height="3" fill="#b8e0a8"/><rect x="33" y="48" width="3" height="3" fill="#a0d8f0"/><rect x="36" y="48" width="3" height="3" fill="#b8e0a8"/><rect x="39" y="48" width="3" height="3" fill="#50b060"/><rect x="42" y="48" width="3" height="3" fill="#a0d8f0"/><rect x="45" y="48" width="3" height="3" fill="#a8dcc8"/><rect x="48" y="48" width="3" height="3" fill="#3a6ec8"/><rect x="51" y="48" width="3" height="3" fill="#8fb8e8"/><rect x="54" y="48" width="3" height="3" fill="#40b8e8"/><rect x="57" y="48" width="3" height="3" fill="#a0d8f0"/><rect x="0" y="51" width="3" height="3" fill="#a8dcc8"/><rect x="3" y="51" width="3" height="3" fill="#8fb8e8"/><rect x="6" y="51" width="3" height="3" fill="#c8c0e8"/><rect x="9" y="51" width="3" height="3" fill="#f0e870"/><rect x="12" y="51" width="3" height="3" fill="#b8e0a8"/><rect x="15" y="51" width="3" height="3" fill="#b8e0a8"/><rect x="18" y="51" width="3" height="3" fill="#f4f8f8"/><rect x="21" y="51" width="3" height="3" fill="#3a6ec8"/><rect x="24" y="51" width="3" height="3" fill="#b8e0a8"/><rect x="27" y="51" width="3" height="3" fill="#8fb8e8"/><rect x="30" y="51" width="3" height="3" fill="#f4f8f8"/><rect x="33" y="51" width="3" height="3" fill="#40b8e8"/><rect x="36" y="51" width="3" height="3" fill="#b8e0a8"/><rect x="39" y="51" width="3" height="3" fill="#40b8e8"/><rect x="42" y="51" width="3" height="3" fill="#b8e0a8"/><rect x="45" y="51" width="3" height="3" fill="#58b8a0"/><rect x="48" y="51" width="3" height="3" fill="#2a40a0"/><rect x="51" y="51" width="3" height="3" fill="#a0d8f0"/><rect x="54" y="51" width="3" height="3" fill="#c8c0e8"/><rect x="57" y="51" width="3" height="3" fill="#8fb8e8"/><rect x="0" y="54" width="3" height="3" fill="#a0d8f0"/><rect x="3" y="54" width="3" height="3" fill="#a8dcc8"/><rect x="6" y="54" width="3" height="3" fill="#c8c0e8"/><rect x="9" y="54" width="3" height="3" fill="#a0d8f0"/><rect x="12" y="54" width="3" height="3" fill="#b8e0a8"/><rect x="15" y="54" width="3" height="3" fill="#a8dcc8"/><rect x="18" y="54" width="3" height="3" fill="#b8e0a8"/><rect x="21" y="54" width="3" height="3" fill="#a8dcc8"/><rect x="24" y="54" width="3" height="3" fill="#a0d8f0"/><rect x="27" y="54" width="3" height="3" fill="#a0d8f0"/><rect x="30" y="54" width="3" height="3" fill="#50b060"/><rect x="33" y="54" width="3" height="3" fill="#a0d8f0"/><rect x="36" y="54" width="3" height="3" fill="#6858b0"/><rect x="39" y="54" width="3" height="3" fill="#a8dcc8"/><rect x="42" y="54" width="3" height="3" fill="#a0d8f0"/><rect x="45" y="54" width="3" height="3" fill="#b8e0a8"/><rect x="48" y="54" width="3" height="3" fill="#a0d8f0"/><rect x="51" y="54" width="3" height="3" fill="#b8e0a8"/><rect x="54" y="54" width="3" height="3" fill="#f8c0c8"/><rect x="57" y="54" width="3" height="3" fill="#c8c0e8"/><rect x="0" y="57" width="3" height="3" fill="#a8dcc8"/><rect x="3" y="57" width="3" height="3" fill="#6858b0"/><rect x="6" y="57" width="3" height="3" fill="#8fb8e8"/><rect x="9" y="57" width="3" height="3" fill="#b8e0a8"/><rect x="12" y="57" width="3" height="3" fill="#40b8e8"/><rect x="15" y="57" width="3" height="3" fill="#2a40a0"/><rect x="18" y="57" width="3" height="3" fill="#6858b0"/><rect x="21" y="57" width="3" height="3" fill="#40b8e8"/><rect x="24" y="57" width="3" height="3" fill="#3a6ec8"/><rect x="27" y="57" width="3" height="3" fill="#6858b0"/><rect x="30" y="57" width="3" height="3" fill="#f4f8f8"/><rect x="33" y="57" width="3" height="3" fill="#8fb8e8"/><rect x="36" y="57" width="3" height="3" fill="#a0d8f0"/><rect x="39" y="57" width="3" height="3" fill="#40b8e8"/><rect x="42" y="57" width="3" height="3" fill="#f0e870"/><rect x="45" y="57" width="3" height="3" fill="#f4f8f8"/><rect x="48" y="57" width="3" height="3" fill="#3a6ec8"/><rect x="51" y="57" width="3" height="3" fill="#a0d8f0"/><rect x="54" y="57" width="3" height="3" fill="#b8e0a8"/><rect x="57" y="57" width="3" height="3" fill="#a8dcc8"/></pattern>
<pattern id="pPurple" width="40" height="40" patternUnits="userSpaceOnUse"><rect x="0" y="0" width="2" height="2" fill="#6a5284"/><rect x="2" y="0" width="2" height="2" fill="#584472"/><rect x="4" y="0" width="2" height="2" fill="#4a3862"/><rect x="6" y="0" width="2" height="2" fill="#6a5284"/><rect x="8" y="0" width="2" height="2" fill="#6a5284"/><rect x="10" y="0" width="2" height="2" fill="#584472"/><rect x="12" y="0" width="2" height="2" fill="#584472"/><rect x="14" y="0" width="2" height="2" fill="#2a1e3a"/><rect x="16" y="0" width="2" height="2" fill="#4a3862"/><rect x="18" y="0" width="2" height="2" fill="#4a3862"/><rect x="20" y="0" width="2" height="2" fill="#4a3862"/><rect x="22" y="0" width="2" height="2" fill="#4a3862"/><rect x="24" y="0" width="2" height="2" fill="#6a5284"/><rect x="26" y="0" width="2" height="2" fill="#4a3862"/><rect x="28" y="0" width="2" height="2" fill="#4a3862"/><rect x="30" y="0" width="2" height="2" fill="#a08cbc"/><rect x="32" y="0" width="2" height="2" fill="#a08cbc"/><rect x="34" y="0" width="2" height="2" fill="#8670a2"/><rect x="36" y="0" width="2" height="2" fill="#4a3862"/><rect x="38" y="0" width="2" height="2" fill="#a08cbc"/><rect x="0" y="2" width="2" height="2" fill="#4a3862"/><rect x="2" y="2" width="2" height="2" fill="#4a3862"/><rect x="4" y="2" width="2" height="2" fill="#6a5284"/><rect x="6" y="2" width="2" height="2" fill="#4a3862"/><rect x="8" y="2" width="2" height="2" fill="#8670a2"/><rect x="10" y="2" width="2" height="2" fill="#8670a2"/><rect x="12" y="2" width="2" height="2" fill="#6a5284"/><rect x="14" y="2" width="2" height="2" fill="#8670a2"/><rect x="16" y="2" width="2" height="2" fill="#6a5284"/><rect x="18" y="2" width="2" height="2" fill="#4a3862"/><rect x="20" y="2" width="2" height="2" fill="#6a5284"/><rect x="22" y="2" width="2" height="2" fill="#4a3862"/><rect x="24" y="2" width="2" height="2" fill="#6a5284"/><rect x="26" y="2" width="2" height="2" fill="#6a5284"/><rect x="28" y="2" width="2" height="2" fill="#4a3862"/><rect x="30" y="2" width="2" height="2" fill="#6a5284"/><rect x="32" y="2" width="2" height="2" fill="#8670a2"/><rect x="34" y="2" width="2" height="2" fill="#8670a2"/><rect x="36" y="2" width="2" height="2" fill="#584472"/><rect x="38" y="2" width="2" height="2" fill="#2a1e3a"/><rect x="0" y="4" width="2" height="2" fill="#584472"/><rect x="2" y="4" width="2" height="2" fill="#584472"/><rect x="4" y="4" width="2" height="2" fill="#4a3862"/><rect x="6" y="4" width="2" height="2" fill="#4a3862"/><rect x="8" y="4" width="2" height="2" fill="#a08cbc"/><rect x="10" y="4" width="2" height="2" fill="#6a5284"/><rect x="12" y="4" width="2" height="2" fill="#584472"/><rect x="14" y="4" width="2" height="2" fill="#2a1e3a"/><rect x="16" y="4" width="2" height="2" fill="#6a5284"/><rect x="18" y="4" width="2" height="2" fill="#584472"/><rect x="20" y="4" width="2" height="2" fill="#584472"/><rect x="22" y="4" width="2" height="2" fill="#2a1e3a"/><rect x="24" y="4" width="2" height="2" fill="#584472"/><rect x="26" y="4" width="2" height="2" fill="#584472"/><rect x="28" y="4" width="2" height="2" fill="#6a5284"/><rect x="30" y="4" width="2" height="2" fill="#8670a2"/><rect x="32" y="4" width="2" height="2" fill="#8670a2"/><rect x="34" y="4" width="2" height="2" fill="#584472"/><rect x="36" y="4" width="2" height="2" fill="#584472"/><rect x="38" y="4" width="2" height="2" fill="#584472"/><rect x="0" y="6" width="2" height="2" fill="#8670a2"/><rect x="2" y="6" width="2" height="2" fill="#584472"/><rect x="4" y="6" width="2" height="2" fill="#2a1e3a"/><rect x="6" y="6" width="2" height="2" fill="#2a1e3a"/><rect x="8" y="6" width="2" height="2" fill="#6a5284"/><rect x="10" y="6" width="2" height="2" fill="#6a5284"/><rect x="12" y="6" width="2" height="2" fill="#6a5284"/><rect x="14" y="6" width="2" height="2" fill="#4a3862"/><rect x="16" y="6" width="2" height="2" fill="#6a5284"/><rect x="18" y="6" width="2" height="2" fill="#584472"/><rect x="20" y="6" width="2" height="2" fill="#8670a2"/><rect x="22" y="6" width="2" height="2" fill="#2a1e3a"/><rect x="24" y="6" width="2" height="2" fill="#2a1e3a"/><rect x="26" y="6" width="2" height="2" fill="#2a1e3a"/><rect x="28" y="6" width="2" height="2" fill="#8670a2"/><rect x="30" y="6" width="2" height="2" fill="#6a5284"/><rect x="32" y="6" width="2" height="2" fill="#584472"/><rect x="34" y="6" width="2" height="2" fill="#584472"/><rect x="36" y="6" width="2" height="2" fill="#8670a2"/><rect x="38" y="6" width="2" height="2" fill="#8670a2"/><rect x="0" y="8" width="2" height="2" fill="#2a1e3a"/><rect x="2" y="8" width="2" height="2" fill="#6a5284"/><rect x="4" y="8" width="2" height="2" fill="#584472"/><rect x="6" y="8" width="2" height="2" fill="#4a3862"/><rect x="8" y="8" width="2" height="2" fill="#6a5284"/><rect x="10" y="8" width="2" height="2" fill="#4a3862"/><rect x="12" y="8" width="2" height="2" fill="#584472"/><rect x="14" y="8" width="2" height="2" fill="#6a5284"/><rect x="16" y="8" width="2" height="2" fill="#584472"/><rect x="18" y="8" width="2" height="2" fill="#a08cbc"/><rect x="20" y="8" width="2" height="2" fill="#8670a2"/><rect x="22" y="8" width="2" height="2" fill="#4a3862"/><rect x="24" y="8" width="2" height="2" fill="#8670a2"/><rect x="26" y="8" width="2" height="2" fill="#2a1e3a"/><rect x="28" y="8" width="2" height="2" fill="#584472"/><rect x="30" y="8" width="2" height="2" fill="#2a1e3a"/><rect x="32" y="8" width="2" height="2" fill="#2a1e3a"/><rect x="34" y="8" width="2" height="2" fill="#6a5284"/><rect x="36" y="8" width="2" height="2" fill="#6a5284"/><rect x="38" y="8" width="2" height="2" fill="#4a3862"/><rect x="0" y="10" width="2" height="2" fill="#584472"/><rect x="2" y="10" width="2" height="2" fill="#4a3862"/><rect x="4" y="10" width="2" height="2" fill="#8670a2"/><rect x="6" y="10" width="2" height="2" fill="#6a5284"/><rect x="8" y="10" width="2" height="2" fill="#6a5284"/><rect x="10" y="10" width="2" height="2" fill="#4a3862"/><rect x="12" y="10" width="2" height="2" fill="#2a1e3a"/><rect x="14" y="10" width="2" height="2" fill="#2a1e3a"/><rect x="16" y="10" width="2" height="2" fill="#2a1e3a"/><rect x="18" y="10" width="2" height="2" fill="#4a3862"/><rect x="20" y="10" width="2" height="2" fill="#8670a2"/><rect x="22" y="10" width="2" height="2" fill="#4a3862"/><rect x="24" y="10" width="2" height="2" fill="#4a3862"/><rect x="26" y="10" width="2" height="2" fill="#6a5284"/><rect x="28" y="10" width="2" height="2" fill="#584472"/><rect x="30" y="10" width="2" height="2" fill="#6a5284"/><rect x="32" y="10" width="2" height="2" fill="#a08cbc"/><rect x="34" y="10" width="2" height="2" fill="#584472"/><rect x="36" y="10" width="2" height="2" fill="#6a5284"/><rect x="38" y="10" width="2" height="2" fill="#4a3862"/><rect x="0" y="12" width="2" height="2" fill="#584472"/><rect x="2" y="12" width="2" height="2" fill="#a08cbc"/><rect x="4" y="12" width="2" height="2" fill="#4a3862"/><rect x="6" y="12" width="2" height="2" fill="#4a3862"/><rect x="8" y="12" width="2" height="2" fill="#6a5284"/><rect x="10" y="12" width="2" height="2" fill="#a08cbc"/><rect x="12" y="12" width="2" height="2" fill="#6a5284"/><rect x="14" y="12" width="2" height="2" fill="#8670a2"/><rect x="16" y="12" width="2" height="2" fill="#6a5284"/><rect x="18" y="12" width="2" height="2" fill="#8670a2"/><rect x="20" y="12" width="2" height="2" fill="#a08cbc"/><rect x="22" y="12" width="2" height="2" fill="#6a5284"/><rect x="24" y="12" width="2" height="2" fill="#584472"/><rect x="26" y="12" width="2" height="2" fill="#8670a2"/><rect x="28" y="12" width="2" height="2" fill="#584472"/><rect x="30" y="12" width="2" height="2" fill="#2a1e3a"/><rect x="32" y="12" width="2" height="2" fill="#6a5284"/><rect x="34" y="12" width="2" height="2" fill="#584472"/><rect x="36" y="12" width="2" height="2" fill="#8670a2"/><rect x="38" y="12" width="2" height="2" fill="#6a5284"/><rect x="0" y="14" width="2" height="2" fill="#6a5284"/><rect x="2" y="14" width="2" height="2" fill="#8670a2"/><rect x="4" y="14" width="2" height="2" fill="#4a3862"/><rect x="6" y="14" width="2" height="2" fill="#4a3862"/><rect x="8" y="14" width="2" height="2" fill="#6a5284"/><rect x="10" y="14" width="2" height="2" fill="#4a3862"/><rect x="12" y="14" width="2" height="2" fill="#4a3862"/><rect x="14" y="14" width="2" height="2" fill="#584472"/><rect x="16" y="14" width="2" height="2" fill="#6a5284"/><rect x="18" y="14" width="2" height="2" fill="#584472"/><rect x="20" y="14" width="2" height="2" fill="#584472"/><rect x="22" y="14" width="2" height="2" fill="#6a5284"/><rect x="24" y="14" width="2" height="2" fill="#584472"/><rect x="26" y="14" width="2" height="2" fill="#584472"/><rect x="28" y="14" width="2" height="2" fill="#584472"/><rect x="30" y="14" width="2" height="2" fill="#4a3862"/><rect x="32" y="14" width="2" height="2" fill="#4a3862"/><rect x="34" y="14" width="2" height="2" fill="#4a3862"/><rect x="36" y="14" width="2" height="2" fill="#a08cbc"/><rect x="38" y="14" width="2" height="2" fill="#2a1e3a"/><rect x="0" y="16" width="2" height="2" fill="#4a3862"/><rect x="2" y="16" width="2" height="2" fill="#4a3862"/><rect x="4" y="16" width="2" height="2" fill="#4a3862"/><rect x="6" y="16" width="2" height="2" fill="#6a5284"/><rect x="8" y="16" width="2" height="2" fill="#6a5284"/><rect x="10" y="16" width="2" height="2" fill="#584472"/><rect x="12" y="16" width="2" height="2" fill="#4a3862"/><rect x="14" y="16" width="2" height="2" fill="#584472"/><rect x="16" y="16" width="2" height="2" fill="#4a3862"/><rect x="18" y="16" width="2" height="2" fill="#4a3862"/><rect x="20" y="16" width="2" height="2" fill="#8670a2"/><rect x="22" y="16" width="2" height="2" fill="#6a5284"/><rect x="24" y="16" width="2" height="2" fill="#4a3862"/><rect x="26" y="16" width="2" height="2" fill="#a08cbc"/><rect x="28" y="16" width="2" height="2" fill="#584472"/><rect x="30" y="16" width="2" height="2" fill="#584472"/><rect x="32" y="16" width="2" height="2" fill="#2a1e3a"/><rect x="34" y="16" width="2" height="2" fill="#584472"/><rect x="36" y="16" width="2" height="2" fill="#584472"/><rect x="38" y="16" width="2" height="2" fill="#8670a2"/><rect x="0" y="18" width="2" height="2" fill="#584472"/><rect x="2" y="18" width="2" height="2" fill="#6a5284"/><rect x="4" y="18" width="2" height="2" fill="#584472"/><rect x="6" y="18" width="2" height="2" fill="#4a3862"/><rect x="8" y="18" width="2" height="2" fill="#584472"/><rect x="10" y="18" width="2" height="2" fill="#2a1e3a"/><rect x="12" y="18" width="2" height="2" fill="#4a3862"/><rect x="14" y="18" width="2" height="2" fill="#6a5284"/><rect x="16" y="18" width="2" height="2" fill="#584472"/><rect x="18" y="18" width="2" height="2" fill="#6a5284"/><rect x="20" y="18" width="2" height="2" fill="#8670a2"/><rect x="22" y="18" width="2" height="2" fill="#4a3862"/><rect x="24" y="18" width="2" height="2" fill="#4a3862"/><rect x="26" y="18" width="2" height="2" fill="#584472"/><rect x="28" y="18" width="2" height="2" fill="#a08cbc"/><rect x="30" y="18" width="2" height="2" fill="#4a3862"/><rect x="32" y="18" width="2" height="2" fill="#2a1e3a"/><rect x="34" y="18" width="2" height="2" fill="#4a3862"/><rect x="36" y="18" width="2" height="2" fill="#8670a2"/><rect x="38" y="18" width="2" height="2" fill="#4a3862"/><rect x="0" y="20" width="2" height="2" fill="#6a5284"/><rect x="2" y="20" width="2" height="2" fill="#6a5284"/><rect x="4" y="20" width="2" height="2" fill="#6a5284"/><rect x="6" y="20" width="2" height="2" fill="#584472"/><rect x="8" y="20" width="2" height="2" fill="#8670a2"/><rect x="10" y="20" width="2" height="2" fill="#6a5284"/><rect x="12" y="20" width="2" height="2" fill="#584472"/><rect x="14" y="20" width="2" height="2" fill="#a08cbc"/><rect x="16" y="20" width="2" height="2" fill="#4a3862"/><rect x="18" y="20" width="2" height="2" fill="#6a5284"/><rect x="20" y="20" width="2" height="2" fill="#6a5284"/><rect x="22" y="20" width="2" height="2" fill="#6a5284"/><rect x="24" y="20" width="2" height="2" fill="#4a3862"/><rect x="26" y="20" width="2" height="2" fill="#6a5284"/><rect x="28" y="20" width="2" height="2" fill="#4a3862"/><rect x="30" y="20" width="2" height="2" fill="#4a3862"/><rect x="32" y="20" width="2" height="2" fill="#8670a2"/><rect x="34" y="20" width="2" height="2" fill="#584472"/><rect x="36" y="20" width="2" height="2" fill="#584472"/><rect x="38" y="20" width="2" height="2" fill="#4a3862"/><rect x="0" y="22" width="2" height="2" fill="#4a3862"/><rect x="2" y="22" width="2" height="2" fill="#8670a2"/><rect x="4" y="22" width="2" height="2" fill="#4a3862"/><rect x="6" y="22" width="2" height="2" fill="#4a3862"/><rect x="8" y="22" width="2" height="2" fill="#6a5284"/><rect x="10" y="22" width="2" height="2" fill="#4a3862"/><rect x="12" y="22" width="2" height="2" fill="#a08cbc"/><rect x="14" y="22" width="2" height="2" fill="#6a5284"/><rect x="16" y="22" width="2" height="2" fill="#8670a2"/><rect x="18" y="22" width="2" height="2" fill="#2a1e3a"/><rect x="20" y="22" width="2" height="2" fill="#584472"/><rect x="22" y="22" width="2" height="2" fill="#6a5284"/><rect x="24" y="22" width="2" height="2" fill="#4a3862"/><rect x="26" y="22" width="2" height="2" fill="#4a3862"/><rect x="28" y="22" width="2" height="2" fill="#4a3862"/><rect x="30" y="22" width="2" height="2" fill="#4a3862"/><rect x="32" y="22" width="2" height="2" fill="#a08cbc"/><rect x="34" y="22" width="2" height="2" fill="#584472"/><rect x="36" y="22" width="2" height="2" fill="#584472"/><rect x="38" y="22" width="2" height="2" fill="#6a5284"/><rect x="0" y="24" width="2" height="2" fill="#6a5284"/><rect x="2" y="24" width="2" height="2" fill="#584472"/><rect x="4" y="24" width="2" height="2" fill="#584472"/><rect x="6" y="24" width="2" height="2" fill="#8670a2"/><rect x="8" y="24" width="2" height="2" fill="#8670a2"/><rect x="10" y="24" width="2" height="2" fill="#6a5284"/><rect x="12" y="24" width="2" height="2" fill="#4a3862"/><rect x="14" y="24" width="2" height="2" fill="#584472"/><rect x="16" y="24" width="2" height="2" fill="#584472"/><rect x="18" y="24" width="2" height="2" fill="#584472"/><rect x="20" y="24" width="2" height="2" fill="#a08cbc"/><rect x="22" y="24" width="2" height="2" fill="#4a3862"/><rect x="24" y="24" width="2" height="2" fill="#6a5284"/><rect x="26" y="24" width="2" height="2" fill="#6a5284"/><rect x="28" y="24" width="2" height="2" fill="#8670a2"/><rect x="30" y="24" width="2" height="2" fill="#2a1e3a"/><rect x="32" y="24" width="2" height="2" fill="#a08cbc"/><rect x="34" y="24" width="2" height="2" fill="#584472"/><rect x="36" y="24" width="2" height="2" fill="#2a1e3a"/><rect x="38" y="24" width="2" height="2" fill="#584472"/><rect x="0" y="26" width="2" height="2" fill="#4a3862"/><rect x="2" y="26" width="2" height="2" fill="#8670a2"/><rect x="4" y="26" width="2" height="2" fill="#6a5284"/><rect x="6" y="26" width="2" height="2" fill="#584472"/><rect x="8" y="26" width="2" height="2" fill="#6a5284"/><rect x="10" y="26" width="2" height="2" fill="#584472"/><rect x="12" y="26" width="2" height="2" fill="#2a1e3a"/><rect x="14" y="26" width="2" height="2" fill="#4a3862"/><rect x="16" y="26" width="2" height="2" fill="#6a5284"/><rect x="18" y="26" width="2" height="2" fill="#4a3862"/><rect x="20" y="26" width="2" height="2" fill="#2a1e3a"/><rect x="22" y="26" width="2" height="2" fill="#2a1e3a"/><rect x="24" y="26" width="2" height="2" fill="#6a5284"/><rect x="26" y="26" width="2" height="2" fill="#6a5284"/><rect x="28" y="26" width="2" height="2" fill="#8670a2"/><rect x="30" y="26" width="2" height="2" fill="#8670a2"/><rect x="32" y="26" width="2" height="2" fill="#4a3862"/><rect x="34" y="26" width="2" height="2" fill="#6a5284"/><rect x="36" y="26" width="2" height="2" fill="#2a1e3a"/><rect x="38" y="26" width="2" height="2" fill="#6a5284"/><rect x="0" y="28" width="2" height="2" fill="#4a3862"/><rect x="2" y="28" width="2" height="2" fill="#4a3862"/><rect x="4" y="28" width="2" height="2" fill="#a08cbc"/><rect x="6" y="28" width="2" height="2" fill="#2a1e3a"/><rect x="8" y="28" width="2" height="2" fill="#584472"/><rect x="10" y="28" width="2" height="2" fill="#8670a2"/><rect x="12" y="28" width="2" height="2" fill="#6a5284"/><rect x="14" y="28" width="2" height="2" fill="#4a3862"/><rect x="16" y="28" width="2" height="2" fill="#a08cbc"/><rect x="18" y="28" width="2" height="2" fill="#2a1e3a"/><rect x="20" y="28" width="2" height="2" fill="#4a3862"/><rect x="22" y="28" width="2" height="2" fill="#6a5284"/><rect x="24" y="28" width="2" height="2" fill="#8670a2"/><rect x="26" y="28" width="2" height="2" fill="#2a1e3a"/><rect x="28" y="28" width="2" height="2" fill="#4a3862"/><rect x="30" y="28" width="2" height="2" fill="#4a3862"/><rect x="32" y="28" width="2" height="2" fill="#2a1e3a"/><rect x="34" y="28" width="2" height="2" fill="#584472"/><rect x="36" y="28" width="2" height="2" fill="#6a5284"/><rect x="38" y="28" width="2" height="2" fill="#6a5284"/><rect x="0" y="30" width="2" height="2" fill="#4a3862"/><rect x="2" y="30" width="2" height="2" fill="#4a3862"/><rect x="4" y="30" width="2" height="2" fill="#2a1e3a"/><rect x="6" y="30" width="2" height="2" fill="#6a5284"/><rect x="8" y="30" width="2" height="2" fill="#584472"/><rect x="10" y="30" width="2" height="2" fill="#584472"/><rect x="12" y="30" width="2" height="2" fill="#8670a2"/><rect x="14" y="30" width="2" height="2" fill="#6a5284"/><rect x="16" y="30" width="2" height="2" fill="#a08cbc"/><rect x="18" y="30" width="2" height="2" fill="#4a3862"/><rect x="20" y="30" width="2" height="2" fill="#584472"/><rect x="22" y="30" width="2" height="2" fill="#6a5284"/><rect x="24" y="30" width="2" height="2" fill="#6a5284"/><rect x="26" y="30" width="2" height="2" fill="#584472"/><rect x="28" y="30" width="2" height="2" fill="#4a3862"/><rect x="30" y="30" width="2" height="2" fill="#a08cbc"/><rect x="32" y="30" width="2" height="2" fill="#8670a2"/><rect x="34" y="30" width="2" height="2" fill="#6a5284"/><rect x="36" y="30" width="2" height="2" fill="#6a5284"/><rect x="38" y="30" width="2" height="2" fill="#4a3862"/><rect x="0" y="32" width="2" height="2" fill="#2a1e3a"/><rect x="2" y="32" width="2" height="2" fill="#a08cbc"/><rect x="4" y="32" width="2" height="2" fill="#6a5284"/><rect x="6" y="32" width="2" height="2" fill="#4a3862"/><rect x="8" y="32" width="2" height="2" fill="#6a5284"/><rect x="10" y="32" width="2" height="2" fill="#a08cbc"/><rect x="12" y="32" width="2" height="2" fill="#6a5284"/><rect x="14" y="32" width="2" height="2" fill="#6a5284"/><rect x="16" y="32" width="2" height="2" fill="#6a5284"/><rect x="18" y="32" width="2" height="2" fill="#4a3862"/><rect x="20" y="32" width="2" height="2" fill="#584472"/><rect x="22" y="32" width="2" height="2" fill="#584472"/><rect x="24" y="32" width="2" height="2" fill="#584472"/><rect x="26" y="32" width="2" height="2" fill="#a08cbc"/><rect x="28" y="32" width="2" height="2" fill="#584472"/><rect x="30" y="32" width="2" height="2" fill="#4a3862"/><rect x="32" y="32" width="2" height="2" fill="#6a5284"/><rect x="34" y="32" width="2" height="2" fill="#584472"/><rect x="36" y="32" width="2" height="2" fill="#584472"/><rect x="38" y="32" width="2" height="2" fill="#6a5284"/><rect x="0" y="34" width="2" height="2" fill="#2a1e3a"/><rect x="2" y="34" width="2" height="2" fill="#4a3862"/><rect x="4" y="34" width="2" height="2" fill="#4a3862"/><rect x="6" y="34" width="2" height="2" fill="#4a3862"/><rect x="8" y="34" width="2" height="2" fill="#6a5284"/><rect x="10" y="34" width="2" height="2" fill="#6a5284"/><rect x="12" y="34" width="2" height="2" fill="#4a3862"/><rect x="14" y="34" width="2" height="2" fill="#4a3862"/><rect x="16" y="34" width="2" height="2" fill="#a08cbc"/><rect x="18" y="34" width="2" height="2" fill="#6a5284"/><rect x="20" y="34" width="2" height="2" fill="#a08cbc"/><rect x="22" y="34" width="2" height="2" fill="#6a5284"/><rect x="24" y="34" width="2" height="2" fill="#4a3862"/><rect x="26" y="34" width="2" height="2" fill="#584472"/><rect x="28" y="34" width="2" height="2" fill="#584472"/><rect x="30" y="34" width="2" height="2" fill="#4a3862"/><rect x="32" y="34" width="2" height="2" fill="#6a5284"/><rect x="34" y="34" width="2" height="2" fill="#8670a2"/><rect x="36" y="34" width="2" height="2" fill="#4a3862"/><rect x="38" y="34" width="2" height="2" fill="#584472"/><rect x="0" y="36" width="2" height="2" fill="#6a5284"/><rect x="2" y="36" width="2" height="2" fill="#4a3862"/><rect x="4" y="36" width="2" height="2" fill="#584472"/><rect x="6" y="36" width="2" height="2" fill="#6a5284"/><rect x="8" y="36" width="2" height="2" fill="#4a3862"/><rect x="10" y="36" width="2" height="2" fill="#584472"/><rect x="12" y="36" width="2" height="2" fill="#584472"/><rect x="14" y="36" width="2" height="2" fill="#6a5284"/><rect x="16" y="36" width="2" height="2" fill="#6a5284"/><rect x="18" y="36" width="2" height="2" fill="#6a5284"/><rect x="20" y="36" width="2" height="2" fill="#584472"/><rect x="22" y="36" width="2" height="2" fill="#4a3862"/><rect x="24" y="36" width="2" height="2" fill="#584472"/><rect x="26" y="36" width="2" height="2" fill="#584472"/><rect x="28" y="36" width="2" height="2" fill="#4a3862"/><rect x="30" y="36" width="2" height="2" fill="#4a3862"/><rect x="32" y="36" width="2" height="2" fill="#a08cbc"/><rect x="34" y="36" width="2" height="2" fill="#2a1e3a"/><rect x="36" y="36" width="2" height="2" fill="#4a3862"/><rect x="38" y="36" width="2" height="2" fill="#584472"/><rect x="0" y="38" width="2" height="2" fill="#4a3862"/><rect x="2" y="38" width="2" height="2" fill="#4a3862"/><rect x="4" y="38" width="2" height="2" fill="#6a5284"/><rect x="6" y="38" width="2" height="2" fill="#584472"/><rect x="8" y="38" width="2" height="2" fill="#584472"/><rect x="10" y="38" width="2" height="2" fill="#2a1e3a"/><rect x="12" y="38" width="2" height="2" fill="#a08cbc"/><rect x="14" y="38" width="2" height="2" fill="#6a5284"/><rect x="16" y="38" width="2" height="2" fill="#6a5284"/><rect x="18" y="38" width="2" height="2" fill="#8670a2"/><rect x="20" y="38" width="2" height="2" fill="#a08cbc"/><rect x="22" y="38" width="2" height="2" fill="#a08cbc"/><rect x="24" y="38" width="2" height="2" fill="#4a3862"/><rect x="26" y="38" width="2" height="2" fill="#4a3862"/><rect x="28" y="38" width="2" height="2" fill="#4a3862"/><rect x="30" y="38" width="2" height="2" fill="#8670a2"/><rect x="32" y="38" width="2" height="2" fill="#584472"/><rect x="34" y="38" width="2" height="2" fill="#6a5284"/><rect x="36" y="38" width="2" height="2" fill="#584472"/><rect x="38" y="38" width="2" height="2" fill="#584472"/></pattern>
</defs>

<path d="M60,238 C60.5,234.2 64.7,227.5 68,223 C71.3,218.5 76.3,213.7 80,211 C83.7,208.3 84.5,208.7 90,207 C95.5,205.3 107.0,203.3 113,201 C119.0,198.7 121.0,194.8 126,193 C131.0,191.2 137.7,190.5 143,190 C148.3,189.5 153.0,189.5 158,190 C163.0,190.5 167.5,193.3 173,193 C178.5,192.7 185.5,189.8 191,188 C196.5,186.2 200.2,184.5 206,182 C211.8,179.5 220.2,174.3 226,173 C231.8,171.7 236.2,174.2 241,174 C245.8,173.8 255.2,162.7 255,172 C254.8,181.3 247.3,219.0 240,230 C232.7,241.0 217.5,233.2 211,238 C204.5,242.8 205.2,254.3 201,259 C196.8,263.7 191.5,264.3 186,266 C180.5,267.7 173.8,268.2 168,269 C162.2,269.8 158.0,271.5 151,271 C144.0,270.5 132.3,267.7 126,266 C119.7,264.3 119.3,262.5 113,261 C106.7,259.5 96.0,259.5 88,257 C80.0,254.5 69.7,249.2 65,246 C60.3,242.8 59.5,241.8 60,238Z" fill="url(#pBlue)"/>
<path d="M450,80 C449.0,67.2 465.7,83.0 474,83 C482.3,83.0 490.7,79.2 500,80 C509.3,80.8 519.2,85.0 530,88 C540.8,91.0 553.2,95.0 565,98 C576.8,101.0 591.7,103.5 601,106 C610.3,108.5 615.2,109.7 621,113 C626.8,116.3 631.8,120.5 636,126 C640.2,131.5 645.3,139.5 646,146 C646.7,152.5 644.2,161.2 640,165 C635.8,168.8 628.3,167.0 621,169 C613.7,171.0 604.2,174.3 596,177 C587.8,179.7 581.3,183.3 572,185 C562.7,186.7 550.8,189.0 540,187 C529.2,185.0 517.0,177.5 507,173 C497.0,168.5 489.5,175.5 480,160 C470.5,144.5 451.0,92.8 450,80Z" fill="url(#pBlue)"/>
<path d="M578,175 C575.0,171.7 577.7,171.0 582,168 C586.3,165.0 595.5,160.7 604,157 C612.5,153.3 626.3,149.7 633,146 C639.7,142.3 638.0,138.0 644,135 C650.0,132.0 660.0,127.3 669,128 C678.0,128.7 687.0,136.5 698,139 C709.0,141.5 724.0,140.0 735,143 C746.0,146.0 754.8,152.5 764,157 C773.2,161.5 784.7,166.5 790,170 C795.3,173.5 795.5,175.3 796,178 C796.5,180.7 797.3,183.7 793,186 C788.7,188.3 781.5,189.5 770,192 C758.5,194.5 737.8,198.3 724,201 C710.2,203.7 697.7,207.3 687,208 C676.3,208.7 669.0,207.3 660,205 C651.0,202.7 643.0,196.8 633,194 C623.0,191.2 609.2,191.2 600,188 C590.8,184.8 581.0,178.3 578,175Z" fill="url(#pPink)"/>
<polygon points="190,300 190,296 197,269.5 212,233 226.7,208 246,181 263.5,164 283,152 302.6,142 327,135 359,137 368.7,142 380,150 380,300" fill="url(#pNoise)"/>
<rect x="796" y="179" width="37" height="145" fill="url(#pNoise)"/>
<clipPath id="cpMtn"><polygon points="305,415 300,380 296,355 299,330 304,315 314,283 325,278 341,221 353,200 363,161 380,118 401,78 412,60 425,45 441,37 452,42 461,55 476,85 496,126 513.6,154 527,181 541,205 554,218.6 575,222 602,218.6 619,218.6 636,229 649.6,242.4 660,254 680,330 500,420"/></clipPath>
<g clip-path="url(#cpMtn)"><g filter="url(#warp)">
<rect x="250" y="20" width="450" height="420" fill="url(#pStripeTop)"/>
<polygon points="250,260 360,181 381,208 398,222 418.4,235.6 442,252.6 472.8,266 510,283 551,300 595,317 629,324 700,330 700,440 250,440" fill="url(#pStripeMid)"/>
<polygon points="496,126 513.6,154 527,181 541,205 554,218.6 575,222 602,218.6 619,218.6 636,229 649.6,242.4 700,260 700,305 648,298.6 614,280.7 569.5,260.5 525,245 480,222 466,205" fill="url(#pStripeSh)"/>
<polygon points="398,78 384,110 372,138 392,142 412,118 410,88" fill="url(#pStripePS)"/>
<polygon points="382,110 367,140 353,200 341,221 325,278 314,290 335,300 350,262 362,215 375,180 392,140" fill="url(#pStripeTeal2)"/>
<polygon points="250,250 330,262 360,300 385,340 400,380 405,440 250,440" fill="url(#pStripeLL)"/>
<polygon points="470,268 551,300 595,317 629,324 700,330 700,345 470,345" fill="url(#pStripeTeal)"/>
</g>
<path d="M355,130 C356.9,125.9 363.3,141.3 369,144 C374.7,146.7 390.7,148.1 398,150.4 C405.3,152.7 417.2,157.5 423.6,161.6 C430.0,165.7 439.6,174.4 446,180.8 C452.4,187.2 465.2,203.6 471.6,209.6 C478.0,215.6 486.3,221.3 494,225.6 C501.7,229.9 518.3,237.3 529,241.6 C539.7,245.9 563.7,253.8 574,257.6 C584.3,261.4 596.2,267.0 606,270.4 C615.8,273.8 639.1,280.4 647.6,283 C656.1,285.6 667.0,284.8 670,290 C673.0,295.2 675.1,318.2 670,322 C664.9,325.8 642.3,319.7 631.6,318.4 C620.9,317.1 601.1,314.6 590,312 C578.9,309.4 558.7,303.3 548,299 C537.3,294.7 518.5,283.8 510,280 C501.5,276.2 491.7,273.0 484,270.4 C476.3,267.8 460.5,263.8 452,260.8 C443.5,257.8 427.2,252.7 420,248 C412.8,243.3 404.0,232.0 398,225.6 C392.0,219.2 380.7,206.7 375,200 C369.3,193.3 357.7,184.3 355,175 C352.3,165.7 353.1,134.1 355,130Z" fill="url(#pDarkTealDots)"/>
<path d="M355,135 C356.9,131.5 363.3,142.0 369,144 C374.7,146.0 390.7,147.6 398,150 C405.3,152.4 417.6,157.9 424,162 C430.4,166.1 441.7,175.3 446,181 C450.3,186.7 455.7,198.7 456,205 C456.3,211.3 451.5,222.5 448,228 C444.5,233.5 435.1,244.1 430,246 C424.9,247.9 415.1,245.2 410,242 C404.9,238.8 397.3,228.3 392,222 C386.7,215.7 374.9,201.9 370,195 C365.1,188.1 357.0,178.0 355,170 C353.0,162.0 353.1,138.5 355,135Z" fill="url(#pTealDots)"/>
<path d="M505,276 C510.5,276.6 548.3,285.6 560,288 C571.7,290.4 611.5,297.6 622,300 C632.5,302.4 660.7,309.8 665,312 C669.3,314.2 668.3,321.4 665,322 C661.7,322.6 639.1,319.4 631.6,318.4 C624.1,317.4 598.4,313.9 590,312 C581.6,310.1 556.5,302.0 548,299 C539.5,296.0 509.3,284.3 505,282 C500.7,279.7 499.5,275.4 505,276Z" fill="url(#pTealDots)"/>
</g>
<clipPath id="cpHill"><path d="M67,416 C64.0,414.0 68.7,401.6 70,398 C71.3,394.4 77.0,383.7 80,380 C83.0,376.3 95.0,365.1 100,361 C105.0,356.9 123.5,343.7 130,339 C136.5,334.3 158.0,318.5 165,314 C172.0,309.5 193.0,297.2 200,294 C207.0,290.8 227.0,283.8 235,282 C243.0,280.2 271.9,276.5 280,276.5 C288.1,276.5 313.6,278.1 316,282 C318.4,285.9 305.7,310.2 304,315 C302.3,319.8 299.8,326.0 299,330 C298.2,334.0 295.9,350.0 296,355 C296.1,360.0 299.1,373.7 300,380 C300.9,386.3 315.0,414.2 305,418 C295.0,421.8 220.5,418.0 200,418 C179.5,418.0 113.3,418.2 100,418 C86.7,417.8 70.0,418.0 67,416Z"/></clipPath>
<g clip-path="url(#cpHill)">
<rect x="60" y="270" width="270" height="150" fill="url(#pPurple)"/>
<polygon points="170,310 203,307 195,345 191,367 180,340" fill="url(#pPurpleDark)"/>
<polygon points="134,337 164,334 149,376 131,370" fill="url(#pPurpleDark)"/>
<polygon points="260,283 308,279 311,310 284,319 266,304" fill="url(#pPurpleDark)"/>
<polygon points="218,289 245,295 230,328" fill="url(#pPurpleDark)"/>
<polygon points="80,376 116,364 122,406 86,409" fill="url(#pPurpleDark)"/>
<polygon points="191,376 218,382 206,406 185,403" fill="url(#pPurpleDark)"/>
<polygon points="242,340 266,334 260,370 236,364" fill="url(#pPurpleDark)"/>
<polygon points="218,330 230,327 224,350" fill="url(#pPurpleDark)"/>
<polygon points="140,385 165,392 155,412 135,412" fill="url(#pPurpleDark)"/>
</g>
<polygon points="489,338 532,326 604,318 633,316 700,330 849,342 882,352 914,359 912.6,363 858,373 808,380 752.5,390 724,383 652,366 556,350 498,335" fill="#70a850" stroke="#70a850" stroke-width="0.8" stroke-linejoin="round"/>
<g fill="#0aa0dc"><rect x="726" y="151.3" width="31" height="201"/><rect x="707" y="239.4" width="61" height="112"/><rect x="693" y="272" width="32" height="80"/><rect x="768" y="252" width="10" height="50"/></g>
<g fill="#0a3a4a"><rect x="659.3" y="230.3" width="26.7" height="121.3"/><rect x="648.8" y="246" width="37.2" height="98.3"/><rect x="633" y="300" width="53" height="44.3"/><rect x="686" y="260" width="21" height="12"/><rect x="686" y="271" width="7" height="47"/><rect x="686" y="317" width="38" height="34.6"/></g>
<g fill="#1e9688"><rect x="777.7" y="231" width="26.3" height="100"/><rect x="761" y="264.8" width="43" height="66"/><rect x="743" y="319" width="105.4" height="39.8"/></g>
<polygon points="497,333 556,350 652,366 724,383 752.5,390 719,467 682,459.6 660,452.7 624,445.7 596,440 568,434.5 540,429 488,413 450,400 466,381" fill="#878f72" stroke="#878f72" stroke-width="0.8" stroke-linejoin="round"/>
<polygon points="452,397 459,384 488,388 540,396.8 568,403.8 596,413.6 624,419 660,422 680,432 722,445 728,447 719,467 682,459.6 660,452.7 624,445.7 596,440 568,434.5 540,429 488,413 450,400" fill="#d85b10" stroke="#d85b10" stroke-width="0.8" stroke-linejoin="round"/>
<polygon points="68,412 110,410 170,410 230,406 267,404 300,405 340,406 400,402 449,399 488,413 540,429 568,434.5 596,440 624,445.7 660,452.7 682,459.6 719,467 717,472 666.6,470 560,476 455,481 400,491.7 365,495 334,489 293,481 232,467 172,449 111,428" fill="#70a850" stroke="#70a850" stroke-width="1"/>
<polygon points="68,412 111,428 172,449 232,467 293,481 334,489 365,495 363,676 68,578" fill="#879474" stroke="#879474" stroke-width="0.8" stroke-linejoin="round"/>
<polygon points="68,472.4 85,471 100,475.5 122,488 153,500 184,506.5 215,519 246,528 277,534 308,543.6 339,550 364,556 363,676 68,578" fill="#d95d12" stroke="#d95d12" stroke-width="0.8" stroke-linejoin="round"/>
<polygon points="68,531 91,534 122,542 153,550 184,556 215,565 246,574.5 277,584 310,595 340,606 364,619 363,676 68,578" fill="#0b3445" stroke="#0b3445" stroke-width="0.8" stroke-linejoin="round"/>
<polygon points="365,495 400,491.7 455,481 560,476 666.6,470 717,472 673.6,575 656,578 623,644 525,656 455,666 363,676" fill="#a0ad8a" stroke="#a0ad8a" stroke-width="0.8" stroke-linejoin="round"/>
<polygon points="363.5,558 420,553 490,544 525,539 560,535 595,530 640,521 668,516 701,513 673.6,575 656,578 623,644 525,656 455,666 363,676" fill="#f27512" stroke="#f27512" stroke-width="0.8" stroke-linejoin="round"/>
<polygon points="363,617 420,610 490,603 525,597 560,591 595,588 630,584 651,583 660,580 656,578 623,644 525,656 455,666 363,676" fill="#0b3445" stroke="#0b3445" stroke-width="0.8" stroke-linejoin="round"/>
<polygon points="752.5,390 808,380 858,373 912.6,363 912.6,550 673.6,576.5" fill="#a0ad8a" stroke="#a0ad8a" stroke-width="0.8" stroke-linejoin="round"/>
<polygon points="725.6,447 774,446 808,440.6 841,439 875,435.5 912.6,429 912.6,550 673.6,576.5" fill="#f27512" stroke="#f27512" stroke-width="0.8" stroke-linejoin="round"/>
<polygon points="690,521 740.7,514 791,508 824.6,506 875,501 912.6,496 912.6,550 673.6,576.5" fill="#0b3445" stroke="#0b3445" stroke-width="0.8" stroke-linejoin="round"/>
<ellipse cx="91" cy="481" rx="4" ry="4" fill="#d9bd7c" transform="rotate(0 91 481)"/>
<ellipse cx="106" cy="494" rx="5" ry="4" fill="#d9bd7c" transform="rotate(0 106 494)"/>
<ellipse cx="129" cy="496" rx="6" ry="4.5" fill="#d9bd7c" transform="rotate(0 129 496)"/>
<ellipse cx="100" cy="513" rx="7" ry="4.5" fill="#d9bd7c" transform="rotate(0 100 513)"/>
<ellipse cx="118" cy="523" rx="5" ry="4" fill="#d9bd7c" transform="rotate(0 118 523)"/>
<ellipse cx="149" cy="512" rx="4" ry="3.5" fill="#d9bd7c" transform="rotate(0 149 512)"/>
<ellipse cx="180" cy="509" rx="8" ry="5" fill="#d9bd7c" transform="rotate(0 180 509)"/>
<ellipse cx="190" cy="521" rx="4" ry="3.5" fill="#d9bd7c" transform="rotate(0 190 521)"/>
<ellipse cx="227" cy="526" rx="5" ry="4" fill="#d9bd7c" transform="rotate(0 227 526)"/>
<ellipse cx="250" cy="540" rx="5" ry="3.5" fill="#d9bd7c" transform="rotate(0 250 540)"/>
<ellipse cx="239" cy="556" rx="7" ry="5" fill="#d9bd7c" transform="rotate(0 239 556)"/>
<ellipse cx="216" cy="554" rx="3" ry="3" fill="#d9bd7c" transform="rotate(0 216 554)"/>
<ellipse cx="272" cy="560" rx="6" ry="4" fill="#d9bd7c" transform="rotate(0 272 560)"/>
<ellipse cx="290" cy="558" rx="3" ry="3" fill="#d9bd7c" transform="rotate(0 290 558)"/>
<ellipse cx="319" cy="565" rx="4" ry="3" fill="#d9bd7c" transform="rotate(0 319 565)"/>
<ellipse cx="343" cy="583" rx="6" ry="4" fill="#d9bd7c" transform="rotate(0 343 583)"/>
<ellipse cx="330" cy="553" rx="3" ry="2.5" fill="#d9bd7c" transform="rotate(0 330 553)"/>
<ellipse cx="140" cy="553" rx="2.5" ry="2.5" fill="#d9bd7c" transform="rotate(0 140 553)"/>
<ellipse cx="385" cy="580" rx="5" ry="4" fill="#d9bd7c" transform="rotate(0 385 580)"/>
<ellipse cx="400" cy="588" rx="14" ry="6" fill="#d9bd7c" transform="rotate(0 400 588)"/>
<ellipse cx="372" cy="608" rx="6" ry="5" fill="#d9bd7c" transform="rotate(0 372 608)"/>
<ellipse cx="420" cy="595" rx="5" ry="3.5" fill="#d9bd7c" transform="rotate(0 420 595)"/>
<ellipse cx="441" cy="574" rx="6" ry="4" fill="#d9bd7c" transform="rotate(0 441 574)"/>
<ellipse cx="447" cy="604" rx="5" ry="3.5" fill="#d9bd7c" transform="rotate(0 447 604)"/>
<ellipse cx="468" cy="577" rx="4" ry="3" fill="#d9bd7c" transform="rotate(0 468 577)"/>
<ellipse cx="470" cy="556" rx="3" ry="2.5" fill="#d9bd7c" transform="rotate(0 470 556)"/>
<ellipse cx="510" cy="578" rx="6" ry="4" fill="#d9bd7c" transform="rotate(0 510 578)"/>
<ellipse cx="520" cy="597" rx="7" ry="5" fill="#d9bd7c" transform="rotate(0 520 597)"/>
<ellipse cx="548" cy="571" rx="4" ry="3.5" fill="#d9bd7c" transform="rotate(0 548 571)"/>
<ellipse cx="580" cy="567" rx="4" ry="3" fill="#d9bd7c" transform="rotate(0 580 567)"/>
<ellipse cx="588" cy="545" rx="4" ry="3.5" fill="#d9bd7c" transform="rotate(0 588 545)"/>
<ellipse cx="596" cy="585" rx="5" ry="4" fill="#d9bd7c" transform="rotate(0 596 585)"/>
<ellipse cx="617" cy="553" rx="6" ry="4" fill="#d9bd7c" transform="rotate(0 617 553)"/>
<ellipse cx="640" cy="543" rx="5" ry="3.5" fill="#d9bd7c" transform="rotate(0 640 543)"/>
<ellipse cx="636" cy="562" rx="3" ry="2.5" fill="#d9bd7c" transform="rotate(0 636 562)"/>
<ellipse cx="366" cy="620" rx="3" ry="3" fill="#d9bd7c" transform="rotate(0 366 620)"/>
<ellipse cx="605" cy="551" rx="7" ry="3.5" fill="#d9bd7c" transform="rotate(0 605 551)"/>
<ellipse cx="570" cy="561" rx="5" ry="3" fill="#d9bd7c" transform="rotate(0 570 561)"/>
<ellipse cx="597" cy="577" rx="4" ry="3.5" fill="#d9bd7c" transform="rotate(0 597 577)"/>
<ellipse cx="640.5" cy="546.8" rx="4.5" ry="4" fill="#d9bd7c" transform="rotate(0 640.5 546.8)"/>
<ellipse cx="638" cy="563.6" rx="3.5" ry="3" fill="#d9bd7c" transform="rotate(0 638 563.6)"/>
<ellipse cx="618" cy="557" rx="3" ry="2.5" fill="#d9bd7c" transform="rotate(0 618 557)"/>
<ellipse cx="627" cy="571" rx="6" ry="3.5" fill="#d9bd7c" transform="rotate(0 627 571)"/>
<ellipse cx="665" cy="532" rx="4" ry="3" fill="#d9bd7c" transform="rotate(0 665 532)"/>
<ellipse cx="680" cy="525" rx="3" ry="3" fill="#d9bd7c" transform="rotate(0 680 525)"/>
<ellipse cx="547" cy="545" rx="4" ry="3" fill="#d9bd7c" transform="rotate(0 547 545)"/>
<ellipse cx="520" cy="560" rx="3" ry="2.5" fill="#d9bd7c" transform="rotate(0 520 560)"/>
<ellipse cx="455" cy="556" rx="5" ry="3.5" fill="#d9bd7c" transform="rotate(0 455 556)"/>
<ellipse cx="500" cy="565" rx="6" ry="4" fill="#d9bd7c" transform="rotate(0 500 565)"/>
<ellipse cx="430" cy="570" rx="4" ry="3" fill="#d9bd7c" transform="rotate(0 430 570)"/>
<ellipse cx="480" cy="590" rx="4" ry="3" fill="#d9bd7c" transform="rotate(0 480 590)"/>
<ellipse cx="745" cy="455" rx="4" ry="4" fill="#d9bd7c" transform="rotate(0 745 455)"/>
<ellipse cx="763" cy="463" rx="8" ry="5" fill="#d9bd7c" transform="rotate(0 763 463)"/>
<ellipse cx="787" cy="466" rx="13" ry="6" fill="#d9bd7c" transform="rotate(0 787 466)"/>
<ellipse cx="810" cy="455" rx="5" ry="3.5" fill="#d9bd7c" transform="rotate(0 810 455)"/>
<ellipse cx="831" cy="470" rx="7" ry="5" fill="#d9bd7c" transform="rotate(0 831 470)"/>
<ellipse cx="850" cy="450" rx="6" ry="4" fill="#d9bd7c" transform="rotate(0 850 450)"/>
<ellipse cx="861" cy="481" rx="5" ry="3.5" fill="#d9bd7c" transform="rotate(0 861 481)"/>
<ellipse cx="874" cy="458" rx="4" ry="3" fill="#d9bd7c" transform="rotate(0 874 458)"/>
<ellipse cx="900" cy="452" rx="8" ry="6" fill="#d9bd7c" transform="rotate(0 900 452)"/>
<ellipse cx="905" cy="475" rx="6" ry="4" fill="#d9bd7c" transform="rotate(0 905 475)"/>
<ellipse cx="760" cy="490" rx="6" ry="4" fill="#d9bd7c" transform="rotate(0 760 490)"/>
<ellipse cx="738" cy="484" rx="8" ry="5" fill="#d9bd7c" transform="rotate(0 738 484)"/>
<ellipse cx="716" cy="481" rx="5" ry="4" fill="#d9bd7c" transform="rotate(0 716 481)"/>
<ellipse cx="800" cy="490" rx="4" ry="3" fill="#d9bd7c" transform="rotate(0 800 490)"/>
<ellipse cx="842" cy="489" rx="4" ry="3" fill="#d9bd7c" transform="rotate(0 842 489)"/>
<ellipse cx="475" cy="393" rx="6" ry="5" fill="#c9ad78" transform="rotate(0 475 393)"/>
<ellipse cx="496" cy="408" rx="5" ry="3.5" fill="#c9ad78" transform="rotate(0 496 408)"/>
<ellipse cx="560" cy="413" rx="6" ry="4" fill="#c9ad78" transform="rotate(0 560 413)"/>
<ellipse cx="622" cy="426" rx="5" ry="3.5" fill="#c9ad78" transform="rotate(0 622 426)"/>
<ellipse cx="680" cy="447" rx="6" ry="4" fill="#c9ad78" transform="rotate(0 680 447)"/>
<ellipse cx="580" cy="428" rx="3" ry="3" fill="#c9ad78" transform="rotate(0 580 428)"/>
<ellipse cx="710" cy="457" rx="4" ry="3" fill="#c9ad78" transform="rotate(0 710 457)"/>
<clipPath id="cpNavy"><polygon points="68,531 91,534 122,542 153,550 184,556 215,565 246,574.5 277,584 310,595 340,606 364,619 363,676 68,578"/><polygon points="363,617 420,610 490,603 525,597 560,591 595,588 630,584 651,583 660,580 656,578 623,644 525,656 455,666 363,676"/><polygon points="690,521 740.7,514 791,508 824.6,506 875,501 912.6,496 912.6,550 673.6,576.5"/></clipPath>
<g clip-path="url(#cpNavy)">
<path d="M92.5,549.5 C96.4,548.9 108.5,545.2 116,546 C123.5,546.8 131.3,550.6 137.5,554 C143.7,557.4 147.8,561.3 153,566.5 C158.2,571.7 162.3,579.8 168.5,585 C174.7,590.2 183.2,594.7 190,597.5 C196.8,600.3 205.8,601.2 209,602" fill="none" stroke="#5e4472" stroke-width="6.0" stroke-linecap="round" stroke-linejoin="round"/>
<path d="M75.5,563.4 C79.1,562.8 90.2,559.5 97,560 C103.8,560.5 110.3,563.3 116,566.5 C121.7,569.7 125.8,575.6 131,579 C136.2,582.4 143.3,584.8 147,586.6 C150.7,588.4 152.0,589.4 153,590" fill="none" stroke="#5e4472" stroke-width="9.0" stroke-linecap="round" stroke-linejoin="round"/>
<path d="M221,600.6 C225.2,600.8 237.7,602.3 246,602 C254.3,601.7 265.8,599.0 271,599 C276.2,599.0 276.0,601.5 277,602" fill="none" stroke="#5e4472" stroke-width="6.8" stroke-linecap="round" stroke-linejoin="round"/>
<path d="M236.7,619 C240.2,618.2 250.3,614.0 258,614.5 C265.7,615.0 275.7,618.6 283,622 C290.3,625.4 294.7,630.8 302,634.7 C309.3,638.6 322.5,643.7 326.6,645.5" fill="none" stroke="#5e4472" stroke-width="10.5" stroke-linecap="round" stroke-linejoin="round"/>
<path d="M317,613 C320.7,614.0 333.8,617.7 339,619 C344.2,620.3 346.5,620.7 348,621" fill="none" stroke="#5e4472" stroke-width="6.8" stroke-linecap="round" stroke-linejoin="round"/>
<path d="M339,641 C342.1,641.5 352.4,644.5 357.6,644 C362.8,643.5 367.9,639.0 370,638" fill="none" stroke="#5e4472" stroke-width="7.5" stroke-linecap="round" stroke-linejoin="round"/>
<path d="M68,540 C70.0,539.7 78.0,538.3 80,538" fill="none" stroke="#5e4472" stroke-width="6.0" stroke-linecap="round" stroke-linejoin="round"/>
<path d="M360,639 C364.7,638.0 377.7,635.3 388,633 C398.3,630.7 413.2,626.1 422,625 C430.8,623.9 437.5,626.2 440.6,626.5" fill="none" stroke="#5e4472" stroke-width="12.0" stroke-linecap="round" stroke-linejoin="round"/>
<path d="M443.7,642 C448.9,641.7 464.1,641.0 475,640 C485.9,639.0 503.2,636.5 508.8,635.8" fill="none" stroke="#5e4472" stroke-width="9.8" stroke-linecap="round" stroke-linejoin="round"/>
<path d="M456,623.4 C460.0,623.0 471.7,621.6 480,621 C488.3,620.4 501.4,620.2 505.7,620" fill="none" stroke="#5e4472" stroke-width="7.5" stroke-linecap="round" stroke-linejoin="round"/>
<path d="M508.8,609.4 C512.3,608.8 521.8,606.8 530,606 C538.2,605.2 553.3,605.0 558,604.8" fill="none" stroke="#5e4472" stroke-width="10.5" stroke-linecap="round" stroke-linejoin="round"/>
<path d="M536.7,628 C539.8,627.7 548.8,626.2 555,626 C561.2,625.8 570.8,626.4 574,626.5" fill="none" stroke="#5e4472" stroke-width="9.0" stroke-linecap="round" stroke-linejoin="round"/>
<path d="M546,646.6 C551.7,645.7 569.7,642.5 580,641 C590.3,639.5 603.3,637.9 608,637.3" fill="none" stroke="#5e4472" stroke-width="9.0" stroke-linecap="round" stroke-linejoin="round"/>
<path d="M577,600 C582.5,599.0 599.7,595.5 610,594 C620.3,592.5 632.3,590.7 639,591 C645.7,591.3 648.2,595.2 650,596" fill="none" stroke="#5e4472" stroke-width="13.5" stroke-linecap="round" stroke-linejoin="round"/>
<path d="M608,604 C611.7,604.3 623.8,604.8 630,606 C636.2,607.2 642.5,610.2 645,611" fill="none" stroke="#5e4472" stroke-width="12.0" stroke-linecap="round" stroke-linejoin="round"/>
<path d="M369,662 C372.5,661.5 383.8,659.8 390,659 C396.2,658.2 403.8,657.8 406.5,657.5" fill="none" stroke="#5e4472" stroke-width="9.0" stroke-linecap="round" stroke-linejoin="round"/>
<path d="M608,620 C611.7,620.5 626.3,622.5 630,623" fill="none" stroke="#5e4472" stroke-width="7.5" stroke-linecap="round" stroke-linejoin="round"/>
<path d="M365,610 C367.5,610.3 377.5,611.7 380,612" fill="none" stroke="#5e4472" stroke-width="6.0" stroke-linecap="round" stroke-linejoin="round"/>
<path d="M690,541.8 C695.0,541.3 710.0,539.8 720,539 C730.0,538.2 739.8,537.7 750,537 C760.2,536.3 775.8,535.0 781,534.6" fill="none" stroke="#5e4472" stroke-width="10" stroke-linecap="round" stroke-linejoin="round"/>
<path d="M745,565.8 C751.8,564.2 771.2,558.8 786,556 C800.8,553.2 822.8,549.8 834,549 C845.2,548.2 849.8,551.0 853,551.4" fill="none" stroke="#5e4472" stroke-width="9" stroke-linecap="round" stroke-linejoin="round"/>
<path d="M786,510.6 C790.8,510.0 808.5,507.0 814.8,507 C821.1,507.0 822.5,510.0 824,510.6" fill="none" stroke="#5e4472" stroke-width="8" stroke-linecap="round" stroke-linejoin="round"/>
<path d="M793,530 C796.6,529.8 811.2,528.8 814.8,528.6" fill="none" stroke="#5e4472" stroke-width="7" stroke-linecap="round" stroke-linejoin="round"/>
<path d="M824,525 C829.7,524.6 849.2,521.4 858,522.6 C866.8,523.8 873.8,530.4 877,532" fill="none" stroke="#5e4472" stroke-width="9" stroke-linecap="round" stroke-linejoin="round"/>
<path d="M862.8,513 C869.2,512.4 892.6,510.6 901,509.4 C909.4,508.2 911.0,506.6 913,506" fill="none" stroke="#5e4472" stroke-width="9" stroke-linecap="round" stroke-linejoin="round"/>
<path d="M858,541.8 C862.5,541.0 875.8,538.6 885,537 C894.2,535.4 908.3,532.8 913,532" fill="none" stroke="#5e4472" stroke-width="9" stroke-linecap="round" stroke-linejoin="round"/>
<path d="M690,556 C694.8,556.8 714.2,560.2 719,561" fill="none" stroke="#5e4472" stroke-width="7" stroke-linecap="round" stroke-linejoin="round"/>
<path d="M697,500 C700.0,500.5 712.0,502.5 715,503" fill="none" stroke="#5e4472" stroke-width="6" stroke-linecap="round" stroke-linejoin="round"/>
<path d="M740,520 C745.0,519.7 765.0,518.3 770,518" fill="none" stroke="#5e4472" stroke-width="6" stroke-linecap="round" stroke-linejoin="round"/>
<path d="M880,548 C885.0,547.5 905.0,545.5 910,545" fill="none" stroke="#5e4472" stroke-width="6" stroke-linecap="round" stroke-linejoin="round"/>
</g>
<clipPath id="cpFaces"><polygon points="365,495 400,491.7 455,481 560,476 666.6,470 717,472 673.6,575 656,578 623,644 525,656 455,666 363,676"/><polygon points="752.5,390 808,380 858,373 912.6,363 912.6,550 673.6,576.5"/></clipPath>
<g clip-path="url(#cpFaces)"><path d="M650,626 C646.2,624.9 633.2,623.2 627,619.5 C620.8,615.8 616.2,610.6 613,604 C609.8,597.4 608.4,587.2 608,580 C607.6,572.8 608.6,568.4 610.7,561 C612.8,553.6 615.8,541.8 620.8,535.7 C625.8,529.6 634.3,526.7 641,524.4 C647.7,522.1 653.9,521.6 661,522 C668.1,522.4 677.0,523.9 683.7,527 C690.4,530.1 696.4,535.1 701,540.8 C705.6,546.5 709.2,553.5 711.4,561 C713.6,568.5 713.6,579.5 714,586 C714.4,592.5 714.0,597.7 714,600" fill="none" stroke="#fff" stroke-width="3.4" stroke-linecap="round"/><path d="M610,690 C608.1,685.1 604.2,671.2 598.7,660.6 C593.2,650.0 581.6,637.4 577,626.5 C572.4,615.6 571.7,605.1 571,595 C570.3,584.9 570.6,575.9 573,566 C575.4,556.1 579.7,545.0 585.5,535.7 C591.3,526.5 597.9,517.6 608,510.5 C618.1,503.4 635.5,496.1 646,493 C656.5,489.9 662.7,491.2 671,491.6 C679.3,492.0 687.8,493.1 696,495.4 C704.2,497.7 711.4,498.6 720,505.5 C728.6,512.4 741.6,527.0 747.6,537 C753.6,547.0 754.4,557.8 756,565.8 C757.6,573.8 756.8,581.8 757,585" fill="none" stroke="#fff" stroke-width="3.4" stroke-linecap="round"/><path d="M560,690 C558.2,685.6 553.4,674.3 549,663.7 C544.6,653.1 537.3,638.0 533.6,626.5 C529.9,615.0 527.6,605.9 527,595 C526.4,584.1 527.0,573.0 530,561 C533.0,549.0 538.3,535.2 545,523 C551.7,510.8 557.5,497.5 570,488 C582.5,478.5 603.6,469.3 620,466 C636.4,462.7 652.9,466.5 668.6,468 C684.3,469.5 702.4,472.3 714,475 C725.6,477.7 729.2,478.7 738,484.2 C746.8,489.7 758.8,499.8 766.8,508.2 C774.8,516.6 780.8,525.8 786,534.6 C791.2,543.4 795.5,552.6 798,561 C800.5,569.4 800.5,581.0 801,585" fill="none" stroke="#fff" stroke-width="3.4" stroke-linecap="round"/><path d="M500,680 C498.9,676.6 496.9,667.5 493.6,659.4 C490.3,651.3 483.3,643.5 480.4,631.5 C477.5,619.5 475.1,604.6 476,587.5 C476.9,570.4 479.2,546.1 486,528.7 C492.8,511.3 504.7,496.1 517,483 C529.3,469.9 542.8,458.8 560,450 C577.2,441.2 596.7,432.0 620,430 C643.3,428.0 682.3,435.1 700,438 C717.7,440.9 715.7,443.6 726,447.4 C736.3,451.2 750.0,453.7 762,460.6 C774.0,467.5 787.6,479.5 798,489 C808.4,498.5 817.2,507.8 824.4,517.8 C831.6,527.8 837.6,540.3 841,549 C844.4,557.7 844.3,566.5 845,570" fill="none" stroke="#fff" stroke-width="3.4" stroke-linecap="round"/><path d="M455,690 C453.8,685.9 451.1,675.0 448,665.3 C444.9,655.5 439.3,644.5 436.4,631.5 C433.5,618.5 430.1,604.6 430.5,587.5 C430.9,570.4 432.4,546.1 439,528.7 C445.6,511.3 456.5,497.8 470,483 C483.5,468.2 498.3,451.3 520,440 C541.7,428.7 573.3,420.0 600,415 C626.7,410.0 657.0,408.6 680,410 C703.0,411.4 720.3,419.0 738,423.4 C755.7,427.8 772.0,431.2 786,436.6 C800.0,442.0 810.8,446.3 822,455.8 C833.2,465.3 844.7,482.7 853,493.8 C861.3,504.9 868.0,513.0 872,522.6 C876.0,532.2 876.0,543.5 877,551.4 C878.0,559.3 877.8,566.9 878,570" fill="none" stroke="#fff" stroke-width="3.4" stroke-linecap="round"/><path d="M412,690 C410.7,687.1 408.8,682.4 404,672.6 C399.2,662.9 387.9,645.7 383.5,631.5 C379.1,617.3 377.1,602.2 377.6,587.5 C378.1,572.8 380.0,559.5 386.4,543.4 C392.8,527.2 401.9,509.5 415.8,490.6 C429.7,471.7 446.0,446.8 470,430 C494.0,413.2 525.0,398.3 560,390 C595.0,381.7 647.7,379.8 680,380 C712.3,380.2 733.9,386.8 753.6,391 C773.3,395.2 784.6,399.8 798,405.4 C811.4,411.0 823.2,417.0 834,424.6 C844.8,432.2 852.5,440.3 862.8,451 C873.1,461.7 888.0,477.5 896,489 C904.0,500.5 907.6,509.8 910.8,520 C914.0,530.2 914.3,545.0 915,550" fill="none" stroke="#fff" stroke-width="3.4" stroke-linecap="round"/><path d="M700,370 C710.0,369.7 741.7,366.5 760,368 C778.3,369.5 795.7,374.4 810,379 C824.3,383.6 834.8,389.4 846,395.8 C857.2,402.2 867.8,409.0 877,417.4 C886.2,425.8 894.7,437.2 901,446 C907.3,454.8 912.7,466.0 915,470" fill="none" stroke="#fff" stroke-width="3.4" stroke-linecap="round"/><path d="M800,360 C810.8,362.2 849.3,367.8 865,373 C880.7,378.2 886.4,385.2 894,391 C901.6,396.8 905.6,401.3 910.8,407.8 C916.0,414.3 922.6,426.3 925,430" fill="none" stroke="#fff" stroke-width="3.4" stroke-linecap="round"/></g>
<path d="M339,404 C370,402 420,397 440,399 C458,401 458,412 438,416 L405,424 C392,428 394,433 410,433 L505,433 C525,434 524,443 505,445 L470,448 C455,451 455,457 475,457 L582,454" fill="none" stroke="#fff" stroke-width="5" stroke-linecap="round" stroke-linejoin="round"/>
<path d="M469,389 C470.8,386.3 475.2,377.0 480,373 C484.8,369.0 491.5,365.8 497.6,365 C503.7,364.2 510.9,364.6 516.8,368.4 C522.7,372.2 527.5,380.4 532.8,387.6 C538.1,394.8 542.9,407.9 548.8,411.6 C554.7,415.3 562.1,412.4 568,410 C573.9,407.6 577.1,401.3 584,397 C590.9,392.7 601.6,384.9 609.6,384.4 C617.6,383.9 625.6,387.6 632,394 C638.4,400.4 641.1,415.9 648,422.8 C654.9,429.7 665.6,434.6 673.6,435.6 C681.6,436.6 687.5,433.0 696,429 C704.5,425.0 720.0,414.5 724.8,411.6" fill="none" stroke="#fff" stroke-width="5" stroke-linecap="round" stroke-linejoin="round"/>
<path d="M360,432 L387,432" stroke="#fff" stroke-width="3.5"/><polygon points="352,432 366,425 365,439" fill="#fff"/>
<path d="M529,441 L552,441" stroke="#fff" stroke-width="3.5"/><polygon points="563,441 549,434 549,448" fill="#fff"/>
<path d="M603,406 A12.5,12.5 0 1 1 592,406" fill="none" stroke="#fff" stroke-width="2.4"/>
<path d="M591,428 A12.5,12.5 0 1 1 602,428" fill="none" stroke="#fff" stroke-width="0"/>
<polygon points="598,400 593,409 601,410" fill="#fff"/><polygon points="594,434 599,425 591,425" fill="#fff"/>
<rect x="228" y="392" width="6" height="32" fill="#0c3b4c"/><circle cx="231" cy="371" r="26" fill="#1e9688"/>
<rect x="284" y="392" width="5" height="25" fill="#0c3b4c"/><ellipse cx="286.5" cy="364" rx="10.5" ry="33" fill="#70a850"/>
<rect x="307" y="392" width="7" height="29" fill="#0c3b4c"/><circle cx="309" cy="379" r="18.6" fill="#9eac8a"/>
<line x1="121" y1="347" x2="150" y2="463" stroke="#f5b800" stroke-width="3"/>
<line x1="407.6" y1="293" x2="303" y2="505" stroke="#f5b800" stroke-width="3"/>
<line x1="473.6" y1="293" x2="498" y2="382" stroke="#f5b800" stroke-width="3"/>
<line x1="750" y1="309" x2="723" y2="408" stroke="#ee4d82" stroke-width="3"/>
<line x1="603" y1="381" x2="652" y2="470" stroke="#d00b2c" stroke-width="3"/>
<line x1="443" y1="434" x2="415" y2="448" stroke="#ee4d82" stroke-width="3"/>
<line x1="307" y1="567" x2="434" y2="534" stroke="#ee4d82" stroke-width="3"/>
<line x1="607" y1="507" x2="679" y2="546" stroke="#0b3a4b" stroke-width="3"/>
<circle cx="658.5" cy="575" r="15.5" fill="#fff"/>
<line x1="659" y1="576" x2="697" y2="614" stroke="#d00b2c" stroke-width="3"/>
<circle cx="652" cy="470" r="14.7" fill="#d00b2c"/>
<rect x="70" y="319" width="75" height="28.80000000000001" fill="#f5b800"/><text class="lb" x="83" y="338" style="font-size:18px">Crust</text>
<rect x="361.3" y="266.2" width="149.3" height="27.30000000000001" fill="#f5b800"/><text class="lb" x="371.4" y="286.4" style="font-size:18px">Tectonic plates</text>
<rect x="724" y="281" width="160" height="28.399999999999977" fill="#ee4d82"/><text class="lb" x="738.6" y="300.4" style="font-size:18px">Rayleigh waves</text>
<rect x="515" y="354" width="103" height="28" fill="#d00b2c"/><text class="lb" x="525" y="373.6" style="font-size:18px">Epicenter</text>
<rect x="314" y="448" width="125" height="28.69999999999999" fill="#ee4d82"/><text class="lb" x="325.6" y="468" style="font-size:18px">Love waves</text>
<rect x="152" y="557" width="155.60000000000002" height="26.600000000000023" fill="#ee4d82"/><text class="lb" x="161.6" y="576.6" style="font-size:18px">P- and S-waves</text>
<rect x="532" y="491" width="75" height="27.600000000000023" fill="#0b3a4b"/><text class="lb" x="547" y="511" style="font-size:18px">Fault</text>
<rect x="695" y="614" width="130" height="28" fill="#d00b2c"/><text class="lb" x="710" y="633" style="font-size:18px">Hypocenter</text>
</svg></body></html>
